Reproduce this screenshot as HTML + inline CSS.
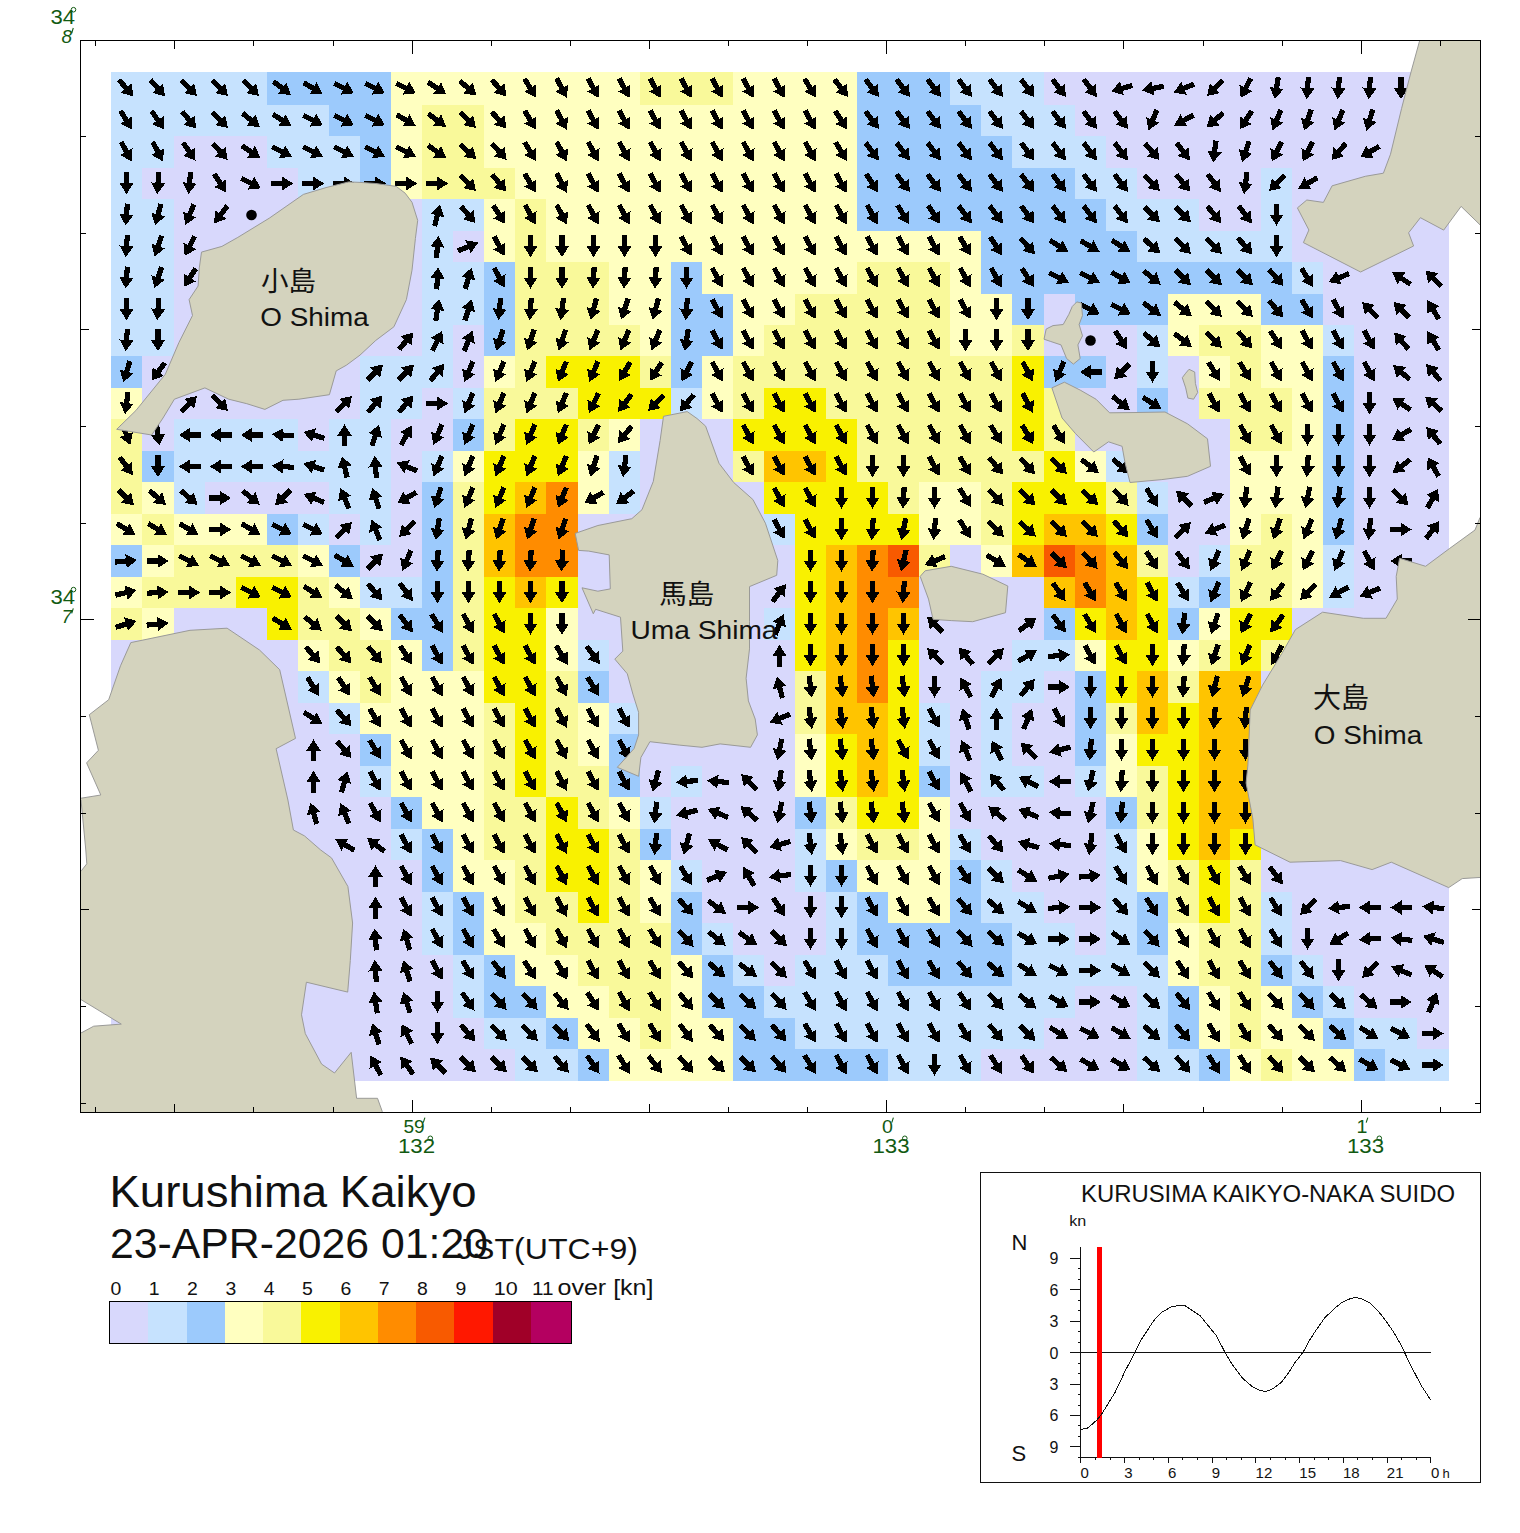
<!DOCTYPE html>
<html><head><meta charset="utf-8"><title>Kurushima Kaikyo</title>
<style>html,body{margin:0;padding:0;background:#fff}svg{display:block}text{font-family:"Liberation Sans",sans-serif}</style></head><body>
<svg width="1520" height="1533" viewBox="0 0 1520 1533">
<rect width="1520" height="1533" fill="#fff"/>
<defs><clipPath id="fc"><rect x="81" y="41" width="1400" height="1072"/></clipPath>
<path id="a" d="M-2.6,11.4V0.5H-7.1L0,-10.6L7.1,0.5H2.6V11.4Z"/></defs>
<g shape-rendering="crispEdges">
<rect x="111" y="72" width="156" height="33" fill="#c6e2fe"/>
<rect x="267" y="72" width="124" height="33" fill="#9ccafc"/>
<rect x="391" y="72" width="249" height="33" fill="#ffffc0"/>
<rect x="640" y="72" width="93" height="33" fill="#f9f99a"/>
<rect x="733" y="72" width="124" height="33" fill="#ffffc0"/>
<rect x="857" y="72" width="93" height="33" fill="#9ccafc"/>
<rect x="950" y="72" width="94" height="33" fill="#c6e2fe"/>
<rect x="1044" y="72" width="405" height="33" fill="#d8d8fc"/>
<rect x="111" y="105" width="218" height="31" fill="#c6e2fe"/>
<rect x="329" y="105" width="62" height="31" fill="#9ccafc"/>
<rect x="391" y="105" width="31" height="31" fill="#ffffc0"/>
<rect x="422" y="105" width="62" height="31" fill="#f9f99a"/>
<rect x="484" y="105" width="373" height="31" fill="#ffffc0"/>
<rect x="857" y="105" width="124" height="31" fill="#9ccafc"/>
<rect x="981" y="105" width="94" height="31" fill="#c6e2fe"/>
<rect x="1075" y="105" width="374" height="31" fill="#d8d8fc"/>
<rect x="111" y="136" width="63" height="32" fill="#c6e2fe"/>
<rect x="174" y="136" width="93" height="32" fill="#d8d8fc"/>
<rect x="267" y="136" width="93" height="32" fill="#c6e2fe"/>
<rect x="360" y="136" width="31" height="32" fill="#9ccafc"/>
<rect x="391" y="136" width="31" height="32" fill="#ffffc0"/>
<rect x="422" y="136" width="62" height="32" fill="#f9f99a"/>
<rect x="484" y="136" width="373" height="32" fill="#ffffc0"/>
<rect x="857" y="136" width="155" height="32" fill="#9ccafc"/>
<rect x="1012" y="136" width="94" height="32" fill="#c6e2fe"/>
<rect x="1106" y="136" width="343" height="32" fill="#d8d8fc"/>
<rect x="111" y="168" width="31" height="31" fill="#c6e2fe"/>
<rect x="142" y="168" width="156" height="31" fill="#d8d8fc"/>
<rect x="298" y="168" width="62" height="31" fill="#c6e2fe"/>
<rect x="360" y="168" width="31" height="31" fill="#9ccafc"/>
<rect x="391" y="168" width="31" height="31" fill="#ffffc0"/>
<rect x="422" y="168" width="93" height="31" fill="#f9f99a"/>
<rect x="515" y="168" width="342" height="31" fill="#ffffc0"/>
<rect x="857" y="168" width="218" height="31" fill="#9ccafc"/>
<rect x="1075" y="168" width="62" height="31" fill="#c6e2fe"/>
<rect x="1137" y="168" width="124" height="31" fill="#d8d8fc"/>
<rect x="1261" y="168" width="31" height="31" fill="#c6e2fe"/>
<rect x="1292" y="168" width="157" height="31" fill="#d8d8fc"/>
<rect x="111" y="199" width="63" height="32" fill="#c6e2fe"/>
<rect x="174" y="199" width="248" height="32" fill="#d8d8fc"/>
<rect x="422" y="199" width="62" height="32" fill="#c6e2fe"/>
<rect x="484" y="199" width="31" height="32" fill="#ffffc0"/>
<rect x="515" y="199" width="31" height="32" fill="#f9f99a"/>
<rect x="546" y="199" width="311" height="32" fill="#ffffc0"/>
<rect x="857" y="199" width="249" height="32" fill="#9ccafc"/>
<rect x="1106" y="199" width="93" height="32" fill="#c6e2fe"/>
<rect x="1199" y="199" width="62" height="32" fill="#d8d8fc"/>
<rect x="1261" y="199" width="31" height="32" fill="#c6e2fe"/>
<rect x="1292" y="199" width="157" height="32" fill="#d8d8fc"/>
<rect x="111" y="231" width="63" height="31" fill="#c6e2fe"/>
<rect x="174" y="231" width="248" height="31" fill="#d8d8fc"/>
<rect x="422" y="231" width="31" height="31" fill="#c6e2fe"/>
<rect x="453" y="231" width="31" height="31" fill="#d8d8fc"/>
<rect x="484" y="231" width="31" height="31" fill="#ffffc0"/>
<rect x="515" y="231" width="31" height="31" fill="#f9f99a"/>
<rect x="546" y="231" width="435" height="31" fill="#ffffc0"/>
<rect x="981" y="231" width="156" height="31" fill="#9ccafc"/>
<rect x="1137" y="231" width="155" height="31" fill="#c6e2fe"/>
<rect x="1292" y="231" width="157" height="31" fill="#d8d8fc"/>
<rect x="111" y="262" width="63" height="32" fill="#c6e2fe"/>
<rect x="174" y="262" width="248" height="32" fill="#d8d8fc"/>
<rect x="422" y="262" width="62" height="32" fill="#c6e2fe"/>
<rect x="484" y="262" width="31" height="32" fill="#9ccafc"/>
<rect x="515" y="262" width="94" height="32" fill="#f9f99a"/>
<rect x="609" y="262" width="62" height="32" fill="#ffffc0"/>
<rect x="671" y="262" width="31" height="32" fill="#9ccafc"/>
<rect x="702" y="262" width="155" height="32" fill="#ffffc0"/>
<rect x="857" y="262" width="93" height="32" fill="#f9f99a"/>
<rect x="950" y="262" width="31" height="32" fill="#ffffc0"/>
<rect x="981" y="262" width="311" height="32" fill="#9ccafc"/>
<rect x="1292" y="262" width="31" height="32" fill="#c6e2fe"/>
<rect x="1323" y="262" width="126" height="32" fill="#d8d8fc"/>
<rect x="111" y="294" width="63" height="31" fill="#c6e2fe"/>
<rect x="174" y="294" width="248" height="31" fill="#d8d8fc"/>
<rect x="422" y="294" width="62" height="31" fill="#c6e2fe"/>
<rect x="484" y="294" width="31" height="31" fill="#9ccafc"/>
<rect x="515" y="294" width="94" height="31" fill="#f9f99a"/>
<rect x="609" y="294" width="62" height="31" fill="#ffffc0"/>
<rect x="671" y="294" width="62" height="31" fill="#9ccafc"/>
<rect x="733" y="294" width="62" height="31" fill="#ffffc0"/>
<rect x="795" y="294" width="155" height="31" fill="#f9f99a"/>
<rect x="950" y="294" width="62" height="31" fill="#ffffc0"/>
<rect x="1012" y="294" width="32" height="31" fill="#9ccafc"/>
<rect x="1044" y="294" width="31" height="31" fill="#d8d8fc"/>
<rect x="1075" y="294" width="93" height="31" fill="#9ccafc"/>
<rect x="1168" y="294" width="93" height="31" fill="#ffffc0"/>
<rect x="1261" y="294" width="62" height="31" fill="#9ccafc"/>
<rect x="1323" y="294" width="126" height="31" fill="#d8d8fc"/>
<rect x="111" y="325" width="63" height="31" fill="#c6e2fe"/>
<rect x="174" y="325" width="248" height="31" fill="#d8d8fc"/>
<rect x="422" y="325" width="31" height="31" fill="#c6e2fe"/>
<rect x="453" y="325" width="31" height="31" fill="#d8d8fc"/>
<rect x="484" y="325" width="31" height="31" fill="#9ccafc"/>
<rect x="515" y="325" width="125" height="31" fill="#f9f99a"/>
<rect x="640" y="325" width="31" height="31" fill="#ffffc0"/>
<rect x="671" y="325" width="62" height="31" fill="#9ccafc"/>
<rect x="733" y="325" width="31" height="31" fill="#ffffc0"/>
<rect x="764" y="325" width="186" height="31" fill="#f9f99a"/>
<rect x="950" y="325" width="62" height="31" fill="#ffffc0"/>
<rect x="1012" y="325" width="32" height="31" fill="#f9f99a"/>
<rect x="1044" y="325" width="93" height="31" fill="#d8d8fc"/>
<rect x="1137" y="325" width="31" height="31" fill="#c6e2fe"/>
<rect x="1168" y="325" width="31" height="31" fill="#ffffc0"/>
<rect x="1199" y="325" width="62" height="31" fill="#f9f99a"/>
<rect x="1261" y="325" width="62" height="31" fill="#ffffc0"/>
<rect x="1323" y="325" width="31" height="31" fill="#c6e2fe"/>
<rect x="1354" y="325" width="95" height="31" fill="#d8d8fc"/>
<rect x="111" y="356" width="31" height="32" fill="#9ccafc"/>
<rect x="142" y="356" width="218" height="32" fill="#d8d8fc"/>
<rect x="360" y="356" width="93" height="32" fill="#c6e2fe"/>
<rect x="453" y="356" width="31" height="32" fill="#d8d8fc"/>
<rect x="484" y="356" width="31" height="32" fill="#ffffc0"/>
<rect x="515" y="356" width="31" height="32" fill="#f9f99a"/>
<rect x="546" y="356" width="94" height="32" fill="#f9f100"/>
<rect x="640" y="356" width="31" height="32" fill="#f9f99a"/>
<rect x="671" y="356" width="31" height="32" fill="#9ccafc"/>
<rect x="702" y="356" width="31" height="32" fill="#ffffc0"/>
<rect x="733" y="356" width="279" height="32" fill="#f9f99a"/>
<rect x="1012" y="356" width="32" height="32" fill="#f9f100"/>
<rect x="1044" y="356" width="62" height="32" fill="#9ccafc"/>
<rect x="1106" y="356" width="31" height="32" fill="#d8d8fc"/>
<rect x="1137" y="356" width="31" height="32" fill="#c6e2fe"/>
<rect x="1168" y="356" width="31" height="32" fill="#d8d8fc"/>
<rect x="1199" y="356" width="31" height="32" fill="#ffffc0"/>
<rect x="1230" y="356" width="31" height="32" fill="#f9f99a"/>
<rect x="1261" y="356" width="62" height="32" fill="#ffffc0"/>
<rect x="1323" y="356" width="31" height="32" fill="#9ccafc"/>
<rect x="1354" y="356" width="95" height="32" fill="#d8d8fc"/>
<rect x="111" y="388" width="31" height="31" fill="#ffffc0"/>
<rect x="142" y="388" width="218" height="31" fill="#d8d8fc"/>
<rect x="360" y="388" width="62" height="31" fill="#c6e2fe"/>
<rect x="422" y="388" width="31" height="31" fill="#d8d8fc"/>
<rect x="453" y="388" width="31" height="31" fill="#c6e2fe"/>
<rect x="484" y="388" width="94" height="31" fill="#f9f99a"/>
<rect x="578" y="388" width="93" height="31" fill="#f9f100"/>
<rect x="671" y="388" width="31" height="31" fill="#c6e2fe"/>
<rect x="702" y="388" width="31" height="31" fill="#ffffc0"/>
<rect x="733" y="388" width="31" height="31" fill="#f9f99a"/>
<rect x="764" y="388" width="62" height="31" fill="#f9f100"/>
<rect x="826" y="388" width="186" height="31" fill="#f9f99a"/>
<rect x="1012" y="388" width="32" height="31" fill="#f9f100"/>
<rect x="1044" y="388" width="31" height="31" fill="#f9f99a"/>
<rect x="1075" y="388" width="62" height="31" fill="#d8d8fc"/>
<rect x="1137" y="388" width="31" height="31" fill="#9ccafc"/>
<rect x="1168" y="388" width="31" height="31" fill="#d8d8fc"/>
<rect x="1199" y="388" width="93" height="31" fill="#f9f99a"/>
<rect x="1292" y="388" width="31" height="31" fill="#ffffc0"/>
<rect x="1323" y="388" width="31" height="31" fill="#9ccafc"/>
<rect x="1354" y="388" width="95" height="31" fill="#d8d8fc"/>
<rect x="111" y="419" width="31" height="32" fill="#f9f99a"/>
<rect x="142" y="419" width="32" height="32" fill="#d8d8fc"/>
<rect x="174" y="419" width="124" height="32" fill="#c6e2fe"/>
<rect x="298" y="419" width="31" height="32" fill="#d8d8fc"/>
<rect x="329" y="419" width="62" height="32" fill="#c6e2fe"/>
<rect x="391" y="419" width="62" height="32" fill="#d8d8fc"/>
<rect x="453" y="419" width="31" height="32" fill="#9ccafc"/>
<rect x="484" y="419" width="31" height="32" fill="#f9f99a"/>
<rect x="515" y="419" width="63" height="32" fill="#f9f100"/>
<rect x="578" y="419" width="31" height="32" fill="#f9f99a"/>
<rect x="609" y="419" width="31" height="32" fill="#ffffc0"/>
<rect x="640" y="419" width="93" height="32" fill="#d8d8fc"/>
<rect x="733" y="419" width="124" height="32" fill="#f9f100"/>
<rect x="857" y="419" width="155" height="32" fill="#f9f99a"/>
<rect x="1012" y="419" width="32" height="32" fill="#f9f100"/>
<rect x="1044" y="419" width="31" height="32" fill="#f9f99a"/>
<rect x="1075" y="419" width="155" height="32" fill="#d8d8fc"/>
<rect x="1230" y="419" width="62" height="32" fill="#f9f99a"/>
<rect x="1292" y="419" width="31" height="32" fill="#ffffc0"/>
<rect x="1323" y="419" width="31" height="32" fill="#9ccafc"/>
<rect x="1354" y="419" width="95" height="32" fill="#d8d8fc"/>
<rect x="111" y="451" width="31" height="31" fill="#f9f99a"/>
<rect x="142" y="451" width="32" height="31" fill="#9ccafc"/>
<rect x="174" y="451" width="217" height="31" fill="#c6e2fe"/>
<rect x="391" y="451" width="31" height="31" fill="#d8d8fc"/>
<rect x="422" y="451" width="31" height="31" fill="#c6e2fe"/>
<rect x="453" y="451" width="31" height="31" fill="#ffffc0"/>
<rect x="484" y="451" width="94" height="31" fill="#f9f100"/>
<rect x="578" y="451" width="31" height="31" fill="#ffffc0"/>
<rect x="609" y="451" width="31" height="31" fill="#c6e2fe"/>
<rect x="640" y="451" width="93" height="31" fill="#d8d8fc"/>
<rect x="733" y="451" width="31" height="31" fill="#f9f99a"/>
<rect x="764" y="451" width="62" height="31" fill="#ffc400"/>
<rect x="826" y="451" width="31" height="31" fill="#f9f100"/>
<rect x="857" y="451" width="187" height="31" fill="#f9f99a"/>
<rect x="1044" y="451" width="31" height="31" fill="#f9f100"/>
<rect x="1075" y="451" width="31" height="31" fill="#ffffc0"/>
<rect x="1106" y="451" width="31" height="31" fill="#c6e2fe"/>
<rect x="1137" y="451" width="93" height="31" fill="#d8d8fc"/>
<rect x="1230" y="451" width="93" height="31" fill="#ffffc0"/>
<rect x="1323" y="451" width="31" height="31" fill="#9ccafc"/>
<rect x="1354" y="451" width="95" height="31" fill="#d8d8fc"/>
<rect x="111" y="482" width="31" height="32" fill="#f9f99a"/>
<rect x="142" y="482" width="32" height="32" fill="#ffffc0"/>
<rect x="174" y="482" width="31" height="32" fill="#c6e2fe"/>
<rect x="205" y="482" width="124" height="32" fill="#d8d8fc"/>
<rect x="329" y="482" width="62" height="32" fill="#c6e2fe"/>
<rect x="391" y="482" width="31" height="32" fill="#d8d8fc"/>
<rect x="422" y="482" width="31" height="32" fill="#9ccafc"/>
<rect x="453" y="482" width="31" height="32" fill="#f9f99a"/>
<rect x="484" y="482" width="31" height="32" fill="#f9f100"/>
<rect x="515" y="482" width="31" height="32" fill="#ffc400"/>
<rect x="546" y="482" width="32" height="32" fill="#ff8c00"/>
<rect x="578" y="482" width="31" height="32" fill="#ffffc0"/>
<rect x="609" y="482" width="31" height="32" fill="#c6e2fe"/>
<rect x="640" y="482" width="124" height="32" fill="#d8d8fc"/>
<rect x="764" y="482" width="124" height="32" fill="#f9f100"/>
<rect x="888" y="482" width="31" height="32" fill="#f9f99a"/>
<rect x="919" y="482" width="62" height="32" fill="#ffffc0"/>
<rect x="981" y="482" width="31" height="32" fill="#f9f99a"/>
<rect x="1012" y="482" width="94" height="32" fill="#f9f100"/>
<rect x="1106" y="482" width="31" height="32" fill="#f9f99a"/>
<rect x="1137" y="482" width="31" height="32" fill="#c6e2fe"/>
<rect x="1168" y="482" width="62" height="32" fill="#d8d8fc"/>
<rect x="1230" y="482" width="93" height="32" fill="#ffffc0"/>
<rect x="1323" y="482" width="31" height="32" fill="#9ccafc"/>
<rect x="1354" y="482" width="95" height="32" fill="#d8d8fc"/>
<rect x="111" y="514" width="31" height="31" fill="#ffffc0"/>
<rect x="142" y="514" width="32" height="31" fill="#f9f99a"/>
<rect x="174" y="514" width="93" height="31" fill="#ffffc0"/>
<rect x="267" y="514" width="31" height="31" fill="#9ccafc"/>
<rect x="298" y="514" width="31" height="31" fill="#c6e2fe"/>
<rect x="329" y="514" width="31" height="31" fill="#d8d8fc"/>
<rect x="360" y="514" width="31" height="31" fill="#c6e2fe"/>
<rect x="391" y="514" width="31" height="31" fill="#d8d8fc"/>
<rect x="422" y="514" width="31" height="31" fill="#9ccafc"/>
<rect x="453" y="514" width="31" height="31" fill="#f9f99a"/>
<rect x="484" y="514" width="31" height="31" fill="#ffc400"/>
<rect x="515" y="514" width="63" height="31" fill="#ff8c00"/>
<rect x="578" y="514" width="186" height="31" fill="#d8d8fc"/>
<rect x="764" y="514" width="31" height="31" fill="#c6e2fe"/>
<rect x="795" y="514" width="124" height="31" fill="#f9f100"/>
<rect x="919" y="514" width="62" height="31" fill="#ffffc0"/>
<rect x="981" y="514" width="31" height="31" fill="#f9f99a"/>
<rect x="1012" y="514" width="32" height="31" fill="#f9f100"/>
<rect x="1044" y="514" width="62" height="31" fill="#ffc400"/>
<rect x="1106" y="514" width="31" height="31" fill="#f9f100"/>
<rect x="1137" y="514" width="31" height="31" fill="#9ccafc"/>
<rect x="1168" y="514" width="62" height="31" fill="#d8d8fc"/>
<rect x="1230" y="514" width="31" height="31" fill="#ffffc0"/>
<rect x="1261" y="514" width="31" height="31" fill="#f9f99a"/>
<rect x="1292" y="514" width="31" height="31" fill="#ffffc0"/>
<rect x="1323" y="514" width="31" height="31" fill="#9ccafc"/>
<rect x="1354" y="514" width="95" height="31" fill="#d8d8fc"/>
<rect x="111" y="545" width="31" height="32" fill="#9ccafc"/>
<rect x="142" y="545" width="32" height="32" fill="#ffffc0"/>
<rect x="174" y="545" width="124" height="32" fill="#f9f99a"/>
<rect x="298" y="545" width="31" height="32" fill="#ffffc0"/>
<rect x="329" y="545" width="31" height="32" fill="#9ccafc"/>
<rect x="360" y="545" width="62" height="32" fill="#d8d8fc"/>
<rect x="422" y="545" width="31" height="32" fill="#9ccafc"/>
<rect x="453" y="545" width="31" height="32" fill="#f9f99a"/>
<rect x="484" y="545" width="31" height="32" fill="#ffc400"/>
<rect x="515" y="545" width="63" height="32" fill="#ff8c00"/>
<rect x="578" y="545" width="217" height="32" fill="#d8d8fc"/>
<rect x="795" y="545" width="31" height="32" fill="#f9f100"/>
<rect x="826" y="545" width="31" height="32" fill="#ffc400"/>
<rect x="857" y="545" width="31" height="32" fill="#ff8c00"/>
<rect x="888" y="545" width="31" height="32" fill="#f85a00"/>
<rect x="919" y="545" width="31" height="32" fill="#f9f99a"/>
<rect x="950" y="545" width="31" height="32" fill="#d8d8fc"/>
<rect x="981" y="545" width="31" height="32" fill="#ffffc0"/>
<rect x="1012" y="545" width="32" height="32" fill="#ffc400"/>
<rect x="1044" y="545" width="31" height="32" fill="#f85a00"/>
<rect x="1075" y="545" width="31" height="32" fill="#ff8c00"/>
<rect x="1106" y="545" width="31" height="32" fill="#ffc400"/>
<rect x="1137" y="545" width="31" height="32" fill="#f9f99a"/>
<rect x="1168" y="545" width="31" height="32" fill="#d8d8fc"/>
<rect x="1199" y="545" width="31" height="32" fill="#c6e2fe"/>
<rect x="1230" y="545" width="62" height="32" fill="#f9f99a"/>
<rect x="1292" y="545" width="31" height="32" fill="#ffffc0"/>
<rect x="1323" y="545" width="31" height="32" fill="#c6e2fe"/>
<rect x="1354" y="545" width="95" height="32" fill="#d8d8fc"/>
<rect x="111" y="577" width="31" height="31" fill="#ffffc0"/>
<rect x="142" y="577" width="94" height="31" fill="#f9f99a"/>
<rect x="236" y="577" width="62" height="31" fill="#f9f100"/>
<rect x="298" y="577" width="31" height="31" fill="#f9f99a"/>
<rect x="329" y="577" width="31" height="31" fill="#ffffc0"/>
<rect x="360" y="577" width="62" height="31" fill="#c6e2fe"/>
<rect x="422" y="577" width="31" height="31" fill="#9ccafc"/>
<rect x="453" y="577" width="31" height="31" fill="#f9f99a"/>
<rect x="484" y="577" width="31" height="31" fill="#f9f100"/>
<rect x="515" y="577" width="31" height="31" fill="#ffc400"/>
<rect x="546" y="577" width="32" height="31" fill="#f9f100"/>
<rect x="578" y="577" width="217" height="31" fill="#d8d8fc"/>
<rect x="795" y="577" width="31" height="31" fill="#f9f100"/>
<rect x="826" y="577" width="31" height="31" fill="#ffc400"/>
<rect x="857" y="577" width="62" height="31" fill="#ff8c00"/>
<rect x="919" y="577" width="125" height="31" fill="#d8d8fc"/>
<rect x="1044" y="577" width="31" height="31" fill="#ffc400"/>
<rect x="1075" y="577" width="31" height="31" fill="#ff8c00"/>
<rect x="1106" y="577" width="31" height="31" fill="#ffc400"/>
<rect x="1137" y="577" width="31" height="31" fill="#f9f100"/>
<rect x="1168" y="577" width="31" height="31" fill="#c6e2fe"/>
<rect x="1199" y="577" width="31" height="31" fill="#9ccafc"/>
<rect x="1230" y="577" width="62" height="31" fill="#f9f99a"/>
<rect x="1292" y="577" width="31" height="31" fill="#ffffc0"/>
<rect x="1323" y="577" width="31" height="31" fill="#c6e2fe"/>
<rect x="1354" y="577" width="95" height="31" fill="#d8d8fc"/>
<rect x="111" y="608" width="31" height="32" fill="#f9f99a"/>
<rect x="142" y="608" width="32" height="32" fill="#ffffc0"/>
<rect x="174" y="608" width="93" height="32" fill="#d8d8fc"/>
<rect x="267" y="608" width="31" height="32" fill="#f9f100"/>
<rect x="298" y="608" width="62" height="32" fill="#f9f99a"/>
<rect x="360" y="608" width="31" height="32" fill="#ffffc0"/>
<rect x="391" y="608" width="62" height="32" fill="#9ccafc"/>
<rect x="453" y="608" width="31" height="32" fill="#f9f99a"/>
<rect x="484" y="608" width="62" height="32" fill="#f9f100"/>
<rect x="546" y="608" width="32" height="32" fill="#ffffc0"/>
<rect x="578" y="608" width="186" height="32" fill="#d8d8fc"/>
<rect x="764" y="608" width="31" height="32" fill="#c6e2fe"/>
<rect x="795" y="608" width="31" height="32" fill="#f9f100"/>
<rect x="826" y="608" width="31" height="32" fill="#ffc400"/>
<rect x="857" y="608" width="31" height="32" fill="#ff8c00"/>
<rect x="888" y="608" width="31" height="32" fill="#ffc400"/>
<rect x="919" y="608" width="125" height="32" fill="#d8d8fc"/>
<rect x="1044" y="608" width="31" height="32" fill="#9ccafc"/>
<rect x="1075" y="608" width="31" height="32" fill="#f9f100"/>
<rect x="1106" y="608" width="31" height="32" fill="#ffc400"/>
<rect x="1137" y="608" width="31" height="32" fill="#f9f100"/>
<rect x="1168" y="608" width="31" height="32" fill="#9ccafc"/>
<rect x="1199" y="608" width="31" height="32" fill="#ffffc0"/>
<rect x="1230" y="608" width="62" height="32" fill="#f9f100"/>
<rect x="1292" y="608" width="157" height="32" fill="#d8d8fc"/>
<rect x="111" y="640" width="187" height="31" fill="#d8d8fc"/>
<rect x="298" y="640" width="31" height="31" fill="#ffffc0"/>
<rect x="329" y="640" width="62" height="31" fill="#f9f99a"/>
<rect x="391" y="640" width="31" height="31" fill="#ffffc0"/>
<rect x="422" y="640" width="31" height="31" fill="#9ccafc"/>
<rect x="453" y="640" width="31" height="31" fill="#f9f99a"/>
<rect x="484" y="640" width="62" height="31" fill="#f9f100"/>
<rect x="546" y="640" width="32" height="31" fill="#ffffc0"/>
<rect x="578" y="640" width="31" height="31" fill="#c6e2fe"/>
<rect x="609" y="640" width="186" height="31" fill="#d8d8fc"/>
<rect x="795" y="640" width="31" height="31" fill="#f9f100"/>
<rect x="826" y="640" width="31" height="31" fill="#ffc400"/>
<rect x="857" y="640" width="31" height="31" fill="#ff8c00"/>
<rect x="888" y="640" width="31" height="31" fill="#f9f100"/>
<rect x="919" y="640" width="93" height="31" fill="#d8d8fc"/>
<rect x="1012" y="640" width="63" height="31" fill="#c6e2fe"/>
<rect x="1075" y="640" width="31" height="31" fill="#ffffc0"/>
<rect x="1106" y="640" width="62" height="31" fill="#f9f100"/>
<rect x="1168" y="640" width="31" height="31" fill="#ffffc0"/>
<rect x="1199" y="640" width="31" height="31" fill="#f9f99a"/>
<rect x="1230" y="640" width="31" height="31" fill="#f9f100"/>
<rect x="1261" y="640" width="31" height="31" fill="#f9f99a"/>
<rect x="1292" y="640" width="157" height="31" fill="#d8d8fc"/>
<rect x="111" y="671" width="187" height="32" fill="#d8d8fc"/>
<rect x="298" y="671" width="31" height="32" fill="#c6e2fe"/>
<rect x="329" y="671" width="31" height="32" fill="#ffffc0"/>
<rect x="360" y="671" width="31" height="32" fill="#f9f99a"/>
<rect x="391" y="671" width="93" height="32" fill="#ffffc0"/>
<rect x="484" y="671" width="62" height="32" fill="#f9f100"/>
<rect x="546" y="671" width="32" height="32" fill="#f9f99a"/>
<rect x="578" y="671" width="31" height="32" fill="#9ccafc"/>
<rect x="609" y="671" width="186" height="32" fill="#d8d8fc"/>
<rect x="795" y="671" width="31" height="32" fill="#f9f99a"/>
<rect x="826" y="671" width="31" height="32" fill="#ffc400"/>
<rect x="857" y="671" width="31" height="32" fill="#ff8c00"/>
<rect x="888" y="671" width="31" height="32" fill="#f9f100"/>
<rect x="919" y="671" width="62" height="32" fill="#d8d8fc"/>
<rect x="981" y="671" width="63" height="32" fill="#c6e2fe"/>
<rect x="1044" y="671" width="31" height="32" fill="#d8d8fc"/>
<rect x="1075" y="671" width="31" height="32" fill="#9ccafc"/>
<rect x="1106" y="671" width="31" height="32" fill="#f9f100"/>
<rect x="1137" y="671" width="31" height="32" fill="#ffc400"/>
<rect x="1168" y="671" width="31" height="32" fill="#f9f99a"/>
<rect x="1199" y="671" width="62" height="32" fill="#ffc400"/>
<rect x="1261" y="671" width="188" height="32" fill="#d8d8fc"/>
<rect x="111" y="703" width="218" height="31" fill="#d8d8fc"/>
<rect x="329" y="703" width="31" height="31" fill="#c6e2fe"/>
<rect x="360" y="703" width="124" height="31" fill="#ffffc0"/>
<rect x="484" y="703" width="31" height="31" fill="#f9f99a"/>
<rect x="515" y="703" width="31" height="31" fill="#f9f100"/>
<rect x="546" y="703" width="32" height="31" fill="#f9f99a"/>
<rect x="578" y="703" width="31" height="31" fill="#ffffc0"/>
<rect x="609" y="703" width="31" height="31" fill="#c6e2fe"/>
<rect x="640" y="703" width="155" height="31" fill="#d8d8fc"/>
<rect x="795" y="703" width="31" height="31" fill="#f9f99a"/>
<rect x="826" y="703" width="62" height="31" fill="#ffc400"/>
<rect x="888" y="703" width="31" height="31" fill="#f9f100"/>
<rect x="919" y="703" width="31" height="31" fill="#c6e2fe"/>
<rect x="950" y="703" width="31" height="31" fill="#d8d8fc"/>
<rect x="981" y="703" width="31" height="31" fill="#c6e2fe"/>
<rect x="1012" y="703" width="63" height="31" fill="#d8d8fc"/>
<rect x="1075" y="703" width="31" height="31" fill="#9ccafc"/>
<rect x="1106" y="703" width="31" height="31" fill="#f9f99a"/>
<rect x="1137" y="703" width="31" height="31" fill="#ffc400"/>
<rect x="1168" y="703" width="31" height="31" fill="#f9f100"/>
<rect x="1199" y="703" width="62" height="31" fill="#ffc400"/>
<rect x="1261" y="703" width="188" height="31" fill="#d8d8fc"/>
<rect x="111" y="734" width="249" height="32" fill="#d8d8fc"/>
<rect x="360" y="734" width="31" height="32" fill="#9ccafc"/>
<rect x="391" y="734" width="93" height="32" fill="#ffffc0"/>
<rect x="484" y="734" width="31" height="32" fill="#f9f99a"/>
<rect x="515" y="734" width="31" height="32" fill="#f9f100"/>
<rect x="546" y="734" width="32" height="32" fill="#f9f99a"/>
<rect x="578" y="734" width="31" height="32" fill="#ffffc0"/>
<rect x="609" y="734" width="31" height="32" fill="#9ccafc"/>
<rect x="640" y="734" width="155" height="32" fill="#d8d8fc"/>
<rect x="795" y="734" width="31" height="32" fill="#ffffc0"/>
<rect x="826" y="734" width="31" height="32" fill="#f9f100"/>
<rect x="857" y="734" width="31" height="32" fill="#ffc400"/>
<rect x="888" y="734" width="31" height="32" fill="#f9f100"/>
<rect x="919" y="734" width="31" height="32" fill="#c6e2fe"/>
<rect x="950" y="734" width="31" height="32" fill="#d8d8fc"/>
<rect x="981" y="734" width="31" height="32" fill="#c6e2fe"/>
<rect x="1012" y="734" width="63" height="32" fill="#d8d8fc"/>
<rect x="1075" y="734" width="31" height="32" fill="#9ccafc"/>
<rect x="1106" y="734" width="31" height="32" fill="#ffffc0"/>
<rect x="1137" y="734" width="62" height="32" fill="#f9f100"/>
<rect x="1199" y="734" width="62" height="32" fill="#ffc400"/>
<rect x="1261" y="734" width="188" height="32" fill="#d8d8fc"/>
<rect x="111" y="766" width="249" height="31" fill="#d8d8fc"/>
<rect x="360" y="766" width="31" height="31" fill="#c6e2fe"/>
<rect x="391" y="766" width="93" height="31" fill="#ffffc0"/>
<rect x="484" y="766" width="31" height="31" fill="#f9f99a"/>
<rect x="515" y="766" width="31" height="31" fill="#f9f100"/>
<rect x="546" y="766" width="63" height="31" fill="#f9f99a"/>
<rect x="609" y="766" width="31" height="31" fill="#9ccafc"/>
<rect x="640" y="766" width="31" height="31" fill="#d8d8fc"/>
<rect x="671" y="766" width="31" height="31" fill="#c6e2fe"/>
<rect x="702" y="766" width="93" height="31" fill="#d8d8fc"/>
<rect x="795" y="766" width="31" height="31" fill="#ffffc0"/>
<rect x="826" y="766" width="31" height="31" fill="#f9f100"/>
<rect x="857" y="766" width="31" height="31" fill="#ffc400"/>
<rect x="888" y="766" width="31" height="31" fill="#f9f100"/>
<rect x="919" y="766" width="31" height="31" fill="#9ccafc"/>
<rect x="950" y="766" width="31" height="31" fill="#d8d8fc"/>
<rect x="981" y="766" width="63" height="31" fill="#c6e2fe"/>
<rect x="1044" y="766" width="31" height="31" fill="#d8d8fc"/>
<rect x="1075" y="766" width="31" height="31" fill="#c6e2fe"/>
<rect x="1106" y="766" width="31" height="31" fill="#ffffc0"/>
<rect x="1137" y="766" width="31" height="31" fill="#f9f99a"/>
<rect x="1168" y="766" width="31" height="31" fill="#f9f100"/>
<rect x="1199" y="766" width="62" height="31" fill="#ffc400"/>
<rect x="1261" y="766" width="188" height="31" fill="#d8d8fc"/>
<rect x="111" y="797" width="280" height="32" fill="#d8d8fc"/>
<rect x="391" y="797" width="31" height="32" fill="#9ccafc"/>
<rect x="422" y="797" width="62" height="32" fill="#ffffc0"/>
<rect x="484" y="797" width="62" height="32" fill="#f9f99a"/>
<rect x="546" y="797" width="32" height="32" fill="#f9f100"/>
<rect x="578" y="797" width="31" height="32" fill="#f9f99a"/>
<rect x="609" y="797" width="31" height="32" fill="#ffffc0"/>
<rect x="640" y="797" width="31" height="32" fill="#c6e2fe"/>
<rect x="671" y="797" width="124" height="32" fill="#d8d8fc"/>
<rect x="795" y="797" width="31" height="32" fill="#9ccafc"/>
<rect x="826" y="797" width="31" height="32" fill="#f9f99a"/>
<rect x="857" y="797" width="62" height="32" fill="#f9f100"/>
<rect x="919" y="797" width="31" height="32" fill="#ffffc0"/>
<rect x="950" y="797" width="156" height="32" fill="#d8d8fc"/>
<rect x="1106" y="797" width="31" height="32" fill="#9ccafc"/>
<rect x="1137" y="797" width="31" height="32" fill="#f9f99a"/>
<rect x="1168" y="797" width="31" height="32" fill="#f9f100"/>
<rect x="1199" y="797" width="62" height="32" fill="#ffc400"/>
<rect x="1261" y="797" width="188" height="32" fill="#d8d8fc"/>
<rect x="111" y="829" width="280" height="31" fill="#d8d8fc"/>
<rect x="391" y="829" width="31" height="31" fill="#c6e2fe"/>
<rect x="422" y="829" width="31" height="31" fill="#9ccafc"/>
<rect x="453" y="829" width="31" height="31" fill="#ffffc0"/>
<rect x="484" y="829" width="62" height="31" fill="#f9f99a"/>
<rect x="546" y="829" width="63" height="31" fill="#f9f100"/>
<rect x="609" y="829" width="31" height="31" fill="#f9f99a"/>
<rect x="640" y="829" width="31" height="31" fill="#9ccafc"/>
<rect x="671" y="829" width="124" height="31" fill="#d8d8fc"/>
<rect x="795" y="829" width="31" height="31" fill="#c6e2fe"/>
<rect x="826" y="829" width="31" height="31" fill="#ffffc0"/>
<rect x="857" y="829" width="62" height="31" fill="#f9f99a"/>
<rect x="919" y="829" width="31" height="31" fill="#ffffc0"/>
<rect x="950" y="829" width="31" height="31" fill="#c6e2fe"/>
<rect x="981" y="829" width="125" height="31" fill="#d8d8fc"/>
<rect x="1106" y="829" width="31" height="31" fill="#c6e2fe"/>
<rect x="1137" y="829" width="31" height="31" fill="#ffffc0"/>
<rect x="1168" y="829" width="31" height="31" fill="#f9f100"/>
<rect x="1199" y="829" width="31" height="31" fill="#ffc400"/>
<rect x="1230" y="829" width="31" height="31" fill="#f9f100"/>
<rect x="1261" y="829" width="188" height="31" fill="#d8d8fc"/>
<rect x="111" y="860" width="311" height="32" fill="#d8d8fc"/>
<rect x="422" y="860" width="31" height="32" fill="#9ccafc"/>
<rect x="453" y="860" width="62" height="32" fill="#ffffc0"/>
<rect x="515" y="860" width="31" height="32" fill="#f9f99a"/>
<rect x="546" y="860" width="63" height="32" fill="#f9f100"/>
<rect x="609" y="860" width="31" height="32" fill="#f9f99a"/>
<rect x="640" y="860" width="31" height="32" fill="#ffffc0"/>
<rect x="671" y="860" width="31" height="32" fill="#c6e2fe"/>
<rect x="702" y="860" width="93" height="32" fill="#d8d8fc"/>
<rect x="795" y="860" width="31" height="32" fill="#c6e2fe"/>
<rect x="826" y="860" width="31" height="32" fill="#9ccafc"/>
<rect x="857" y="860" width="93" height="32" fill="#ffffc0"/>
<rect x="950" y="860" width="31" height="32" fill="#9ccafc"/>
<rect x="981" y="860" width="31" height="32" fill="#c6e2fe"/>
<rect x="1012" y="860" width="94" height="32" fill="#d8d8fc"/>
<rect x="1106" y="860" width="31" height="32" fill="#c6e2fe"/>
<rect x="1137" y="860" width="31" height="32" fill="#ffffc0"/>
<rect x="1168" y="860" width="31" height="32" fill="#f9f99a"/>
<rect x="1199" y="860" width="31" height="32" fill="#f9f100"/>
<rect x="1230" y="860" width="31" height="32" fill="#f9f99a"/>
<rect x="1261" y="860" width="188" height="32" fill="#d8d8fc"/>
<rect x="111" y="892" width="311" height="31" fill="#d8d8fc"/>
<rect x="422" y="892" width="31" height="31" fill="#c6e2fe"/>
<rect x="453" y="892" width="31" height="31" fill="#9ccafc"/>
<rect x="484" y="892" width="31" height="31" fill="#ffffc0"/>
<rect x="515" y="892" width="63" height="31" fill="#f9f99a"/>
<rect x="578" y="892" width="31" height="31" fill="#f9f100"/>
<rect x="609" y="892" width="31" height="31" fill="#f9f99a"/>
<rect x="640" y="892" width="31" height="31" fill="#ffffc0"/>
<rect x="671" y="892" width="31" height="31" fill="#9ccafc"/>
<rect x="702" y="892" width="124" height="31" fill="#d8d8fc"/>
<rect x="826" y="892" width="31" height="31" fill="#c6e2fe"/>
<rect x="857" y="892" width="31" height="31" fill="#9ccafc"/>
<rect x="888" y="892" width="62" height="31" fill="#ffffc0"/>
<rect x="950" y="892" width="31" height="31" fill="#9ccafc"/>
<rect x="981" y="892" width="63" height="31" fill="#c6e2fe"/>
<rect x="1044" y="892" width="62" height="31" fill="#d8d8fc"/>
<rect x="1106" y="892" width="31" height="31" fill="#c6e2fe"/>
<rect x="1137" y="892" width="31" height="31" fill="#9ccafc"/>
<rect x="1168" y="892" width="31" height="31" fill="#f9f99a"/>
<rect x="1199" y="892" width="31" height="31" fill="#f9f100"/>
<rect x="1230" y="892" width="31" height="31" fill="#f9f99a"/>
<rect x="1261" y="892" width="31" height="31" fill="#c6e2fe"/>
<rect x="1292" y="892" width="157" height="31" fill="#d8d8fc"/>
<rect x="111" y="923" width="311" height="32" fill="#d8d8fc"/>
<rect x="422" y="923" width="31" height="32" fill="#c6e2fe"/>
<rect x="453" y="923" width="31" height="32" fill="#9ccafc"/>
<rect x="484" y="923" width="62" height="32" fill="#ffffc0"/>
<rect x="546" y="923" width="125" height="32" fill="#f9f99a"/>
<rect x="671" y="923" width="31" height="32" fill="#9ccafc"/>
<rect x="702" y="923" width="31" height="32" fill="#c6e2fe"/>
<rect x="733" y="923" width="93" height="32" fill="#d8d8fc"/>
<rect x="826" y="923" width="31" height="32" fill="#c6e2fe"/>
<rect x="857" y="923" width="155" height="32" fill="#9ccafc"/>
<rect x="1012" y="923" width="63" height="32" fill="#c6e2fe"/>
<rect x="1075" y="923" width="31" height="32" fill="#d8d8fc"/>
<rect x="1106" y="923" width="31" height="32" fill="#c6e2fe"/>
<rect x="1137" y="923" width="31" height="32" fill="#9ccafc"/>
<rect x="1168" y="923" width="31" height="32" fill="#ffffc0"/>
<rect x="1199" y="923" width="62" height="32" fill="#f9f99a"/>
<rect x="1261" y="923" width="31" height="32" fill="#c6e2fe"/>
<rect x="1292" y="923" width="157" height="32" fill="#d8d8fc"/>
<rect x="111" y="955" width="342" height="31" fill="#d8d8fc"/>
<rect x="453" y="955" width="31" height="31" fill="#c6e2fe"/>
<rect x="484" y="955" width="31" height="31" fill="#9ccafc"/>
<rect x="515" y="955" width="63" height="31" fill="#ffffc0"/>
<rect x="578" y="955" width="93" height="31" fill="#f9f99a"/>
<rect x="671" y="955" width="31" height="31" fill="#ffffc0"/>
<rect x="702" y="955" width="31" height="31" fill="#9ccafc"/>
<rect x="733" y="955" width="31" height="31" fill="#c6e2fe"/>
<rect x="764" y="955" width="31" height="31" fill="#d8d8fc"/>
<rect x="795" y="955" width="93" height="31" fill="#c6e2fe"/>
<rect x="888" y="955" width="124" height="31" fill="#9ccafc"/>
<rect x="1012" y="955" width="156" height="31" fill="#c6e2fe"/>
<rect x="1168" y="955" width="31" height="31" fill="#ffffc0"/>
<rect x="1199" y="955" width="62" height="31" fill="#f9f99a"/>
<rect x="1261" y="955" width="31" height="31" fill="#9ccafc"/>
<rect x="1292" y="955" width="31" height="31" fill="#c6e2fe"/>
<rect x="1323" y="955" width="126" height="31" fill="#d8d8fc"/>
<rect x="111" y="986" width="342" height="32" fill="#d8d8fc"/>
<rect x="453" y="986" width="31" height="32" fill="#c6e2fe"/>
<rect x="484" y="986" width="62" height="32" fill="#9ccafc"/>
<rect x="546" y="986" width="63" height="32" fill="#ffffc0"/>
<rect x="609" y="986" width="62" height="32" fill="#f9f99a"/>
<rect x="671" y="986" width="31" height="32" fill="#ffffc0"/>
<rect x="702" y="986" width="62" height="32" fill="#9ccafc"/>
<rect x="764" y="986" width="311" height="32" fill="#c6e2fe"/>
<rect x="1075" y="986" width="62" height="32" fill="#d8d8fc"/>
<rect x="1137" y="986" width="31" height="32" fill="#c6e2fe"/>
<rect x="1168" y="986" width="31" height="32" fill="#9ccafc"/>
<rect x="1199" y="986" width="31" height="32" fill="#ffffc0"/>
<rect x="1230" y="986" width="31" height="32" fill="#f9f99a"/>
<rect x="1261" y="986" width="31" height="32" fill="#ffffc0"/>
<rect x="1292" y="986" width="31" height="32" fill="#9ccafc"/>
<rect x="1323" y="986" width="31" height="32" fill="#c6e2fe"/>
<rect x="1354" y="986" width="95" height="32" fill="#d8d8fc"/>
<rect x="111" y="1018" width="373" height="31" fill="#d8d8fc"/>
<rect x="484" y="1018" width="62" height="31" fill="#c6e2fe"/>
<rect x="546" y="1018" width="32" height="31" fill="#9ccafc"/>
<rect x="578" y="1018" width="62" height="31" fill="#ffffc0"/>
<rect x="640" y="1018" width="31" height="31" fill="#f9f99a"/>
<rect x="671" y="1018" width="62" height="31" fill="#ffffc0"/>
<rect x="733" y="1018" width="62" height="31" fill="#9ccafc"/>
<rect x="795" y="1018" width="249" height="31" fill="#c6e2fe"/>
<rect x="1044" y="1018" width="93" height="31" fill="#d8d8fc"/>
<rect x="1137" y="1018" width="31" height="31" fill="#c6e2fe"/>
<rect x="1168" y="1018" width="31" height="31" fill="#9ccafc"/>
<rect x="1199" y="1018" width="31" height="31" fill="#ffffc0"/>
<rect x="1230" y="1018" width="31" height="31" fill="#f9f99a"/>
<rect x="1261" y="1018" width="62" height="31" fill="#ffffc0"/>
<rect x="1323" y="1018" width="31" height="31" fill="#9ccafc"/>
<rect x="1354" y="1018" width="63" height="31" fill="#c6e2fe"/>
<rect x="1417" y="1018" width="32" height="31" fill="#d8d8fc"/>
<rect x="111" y="1049" width="404" height="32" fill="#d8d8fc"/>
<rect x="515" y="1049" width="63" height="32" fill="#c6e2fe"/>
<rect x="578" y="1049" width="31" height="32" fill="#9ccafc"/>
<rect x="609" y="1049" width="124" height="32" fill="#ffffc0"/>
<rect x="733" y="1049" width="155" height="32" fill="#9ccafc"/>
<rect x="888" y="1049" width="93" height="32" fill="#c6e2fe"/>
<rect x="981" y="1049" width="156" height="32" fill="#d8d8fc"/>
<rect x="1137" y="1049" width="62" height="32" fill="#c6e2fe"/>
<rect x="1199" y="1049" width="31" height="32" fill="#9ccafc"/>
<rect x="1230" y="1049" width="31" height="32" fill="#ffffc0"/>
<rect x="1261" y="1049" width="31" height="32" fill="#f9f99a"/>
<rect x="1292" y="1049" width="62" height="32" fill="#ffffc0"/>
<rect x="1354" y="1049" width="31" height="32" fill="#9ccafc"/>
<rect x="1385" y="1049" width="64" height="32" fill="#c6e2fe"/>
</g>
<g fill="#000" shape-rendering="crispEdges">
<use href="#a" transform="translate(126.5 88.5) rotate(139.2)"/>
<use href="#a" transform="translate(158.0 88.5) rotate(138.4)"/>
<use href="#a" transform="translate(189.5 88.5) rotate(135.0)"/>
<use href="#a" transform="translate(220.5 88.5) rotate(135.0)"/>
<use href="#a" transform="translate(251.5 88.5) rotate(135.0)"/>
<use href="#a" transform="translate(282.5 88.5) rotate(127.8)"/>
<use href="#a" transform="translate(313.5 88.5) rotate(120.6)"/>
<use href="#a" transform="translate(344.5 88.5) rotate(117.0)"/>
<use href="#a" transform="translate(375.5 88.5) rotate(117.0)"/>
<use href="#a" transform="translate(406.5 88.5) rotate(117.0)"/>
<use href="#a" transform="translate(437.5 88.5) rotate(124.2)"/>
<use href="#a" transform="translate(468.5 88.5) rotate(131.4)"/>
<use href="#a" transform="translate(499.5 88.5) rotate(138.4)"/>
<use href="#a" transform="translate(530.5 88.5) rotate(148.6)"/>
<use href="#a" transform="translate(562.0 88.5) rotate(152.0)"/>
<use href="#a" transform="translate(593.5 88.5) rotate(152.0)"/>
<use href="#a" transform="translate(624.5 88.5) rotate(152.0)"/>
<use href="#a" transform="translate(655.5 88.5) rotate(152.0)"/>
<use href="#a" transform="translate(686.5 88.5) rotate(152.0)"/>
<use href="#a" transform="translate(717.5 88.5) rotate(152.0)"/>
<use href="#a" transform="translate(748.5 88.5) rotate(152.0)"/>
<use href="#a" transform="translate(779.5 88.5) rotate(152.0)"/>
<use href="#a" transform="translate(810.5 88.5) rotate(148.6)"/>
<use href="#a" transform="translate(841.5 88.5) rotate(141.8)"/>
<use href="#a" transform="translate(872.5 88.5) rotate(143.0)"/>
<use href="#a" transform="translate(903.5 88.5) rotate(143.0)"/>
<use href="#a" transform="translate(934.5 88.5) rotate(143.0)"/>
<use href="#a" transform="translate(965.5 88.5) rotate(143.0)"/>
<use href="#a" transform="translate(996.5 88.5) rotate(143.0)"/>
<use href="#a" transform="translate(1028.0 88.5) rotate(143.0)"/>
<use href="#a" transform="translate(1059.5 88.5) rotate(143.0)"/>
<use href="#a" transform="translate(1090.5 88.5) rotate(143.5)"/>
<use href="#a" transform="translate(1121.5 88.5) rotate(255.0)"/>
<use href="#a" transform="translate(1152.5 88.5) rotate(258.8)"/>
<use href="#a" transform="translate(1183.5 88.5) rotate(247.5)"/>
<use href="#a" transform="translate(1214.5 88.5) rotate(225.0)"/>
<use href="#a" transform="translate(1245.5 88.5) rotate(207.1)"/>
<use href="#a" transform="translate(1276.5 88.5) rotate(189.0)"/>
<use href="#a" transform="translate(1307.5 88.5) rotate(184.4)"/>
<use href="#a" transform="translate(1338.5 88.5) rotate(184.4)"/>
<use href="#a" transform="translate(1369.5 88.5) rotate(184.4)"/>
<use href="#a" transform="translate(1401.0 88.5) rotate(180.0)"/>
<use href="#a" transform="translate(126.5 120.5) rotate(148.6)"/>
<use href="#a" transform="translate(158.0 120.5) rotate(146.4)"/>
<use href="#a" transform="translate(189.5 120.5) rotate(140.6)"/>
<use href="#a" transform="translate(220.5 120.5) rotate(135.0)"/>
<use href="#a" transform="translate(251.5 120.5) rotate(129.0)"/>
<use href="#a" transform="translate(282.5 120.5) rotate(123.0)"/>
<use href="#a" transform="translate(313.5 120.5) rotate(117.0)"/>
<use href="#a" transform="translate(344.5 120.5) rotate(117.0)"/>
<use href="#a" transform="translate(375.5 120.5) rotate(117.0)"/>
<use href="#a" transform="translate(406.5 120.5) rotate(120.0)"/>
<use href="#a" transform="translate(437.5 120.5) rotate(126.0)"/>
<use href="#a" transform="translate(468.5 120.5) rotate(135.0)"/>
<use href="#a" transform="translate(499.5 120.5) rotate(137.8)"/>
<use href="#a" transform="translate(530.5 120.5) rotate(149.2)"/>
<use href="#a" transform="translate(562.0 120.5) rotate(152.0)"/>
<use href="#a" transform="translate(593.5 120.5) rotate(152.0)"/>
<use href="#a" transform="translate(624.5 120.5) rotate(152.0)"/>
<use href="#a" transform="translate(655.5 120.5) rotate(152.0)"/>
<use href="#a" transform="translate(686.5 120.5) rotate(152.0)"/>
<use href="#a" transform="translate(717.5 120.5) rotate(152.0)"/>
<use href="#a" transform="translate(748.5 120.5) rotate(152.0)"/>
<use href="#a" transform="translate(779.5 120.5) rotate(152.0)"/>
<use href="#a" transform="translate(810.5 120.5) rotate(152.0)"/>
<use href="#a" transform="translate(841.5 120.5) rotate(146.4)"/>
<use href="#a" transform="translate(872.5 120.5) rotate(143.0)"/>
<use href="#a" transform="translate(903.5 120.5) rotate(143.0)"/>
<use href="#a" transform="translate(934.5 120.5) rotate(143.0)"/>
<use href="#a" transform="translate(965.5 120.5) rotate(143.0)"/>
<use href="#a" transform="translate(996.5 120.5) rotate(143.0)"/>
<use href="#a" transform="translate(1028.0 120.5) rotate(143.0)"/>
<use href="#a" transform="translate(1059.5 120.5) rotate(143.0)"/>
<use href="#a" transform="translate(1090.5 120.5) rotate(143.0)"/>
<use href="#a" transform="translate(1121.5 120.5) rotate(143.0)"/>
<use href="#a" transform="translate(1152.5 120.5) rotate(202.5)"/>
<use href="#a" transform="translate(1183.5 120.5) rotate(241.9)"/>
<use href="#a" transform="translate(1214.5 120.5) rotate(229.4)"/>
<use href="#a" transform="translate(1245.5 120.5) rotate(213.8)"/>
<use href="#a" transform="translate(1276.5 120.5) rotate(202.5)"/>
<use href="#a" transform="translate(1307.5 120.5) rotate(198.8)"/>
<use href="#a" transform="translate(1338.5 120.5) rotate(202.5)"/>
<use href="#a" transform="translate(1369.5 120.5) rotate(196.9)"/>
<use href="#a" transform="translate(126.5 152.0) rotate(152.0)"/>
<use href="#a" transform="translate(158.0 152.0) rotate(152.0)"/>
<use href="#a" transform="translate(189.5 152.0) rotate(145.2)"/>
<use href="#a" transform="translate(220.5 152.0) rotate(137.7)"/>
<use href="#a" transform="translate(251.5 152.0) rotate(123.0)"/>
<use href="#a" transform="translate(282.5 152.0) rotate(117.0)"/>
<use href="#a" transform="translate(313.5 152.0) rotate(117.0)"/>
<use href="#a" transform="translate(344.5 152.0) rotate(117.0)"/>
<use href="#a" transform="translate(375.5 152.0) rotate(117.0)"/>
<use href="#a" transform="translate(406.5 152.0) rotate(117.0)"/>
<use href="#a" transform="translate(437.5 152.0) rotate(124.2)"/>
<use href="#a" transform="translate(468.5 152.0) rotate(132.0)"/>
<use href="#a" transform="translate(499.5 152.0) rotate(137.8)"/>
<use href="#a" transform="translate(530.5 152.0) rotate(149.2)"/>
<use href="#a" transform="translate(562.0 152.0) rotate(152.0)"/>
<use href="#a" transform="translate(593.5 152.0) rotate(152.0)"/>
<use href="#a" transform="translate(624.5 152.0) rotate(152.0)"/>
<use href="#a" transform="translate(655.5 152.0) rotate(152.0)"/>
<use href="#a" transform="translate(686.5 152.0) rotate(152.0)"/>
<use href="#a" transform="translate(717.5 152.0) rotate(152.0)"/>
<use href="#a" transform="translate(748.5 152.0) rotate(152.0)"/>
<use href="#a" transform="translate(779.5 152.0) rotate(152.0)"/>
<use href="#a" transform="translate(810.5 152.0) rotate(152.0)"/>
<use href="#a" transform="translate(841.5 152.0) rotate(149.2)"/>
<use href="#a" transform="translate(872.5 152.0) rotate(143.0)"/>
<use href="#a" transform="translate(903.5 152.0) rotate(143.0)"/>
<use href="#a" transform="translate(934.5 152.0) rotate(143.0)"/>
<use href="#a" transform="translate(965.5 152.0) rotate(143.0)"/>
<use href="#a" transform="translate(996.5 152.0) rotate(143.0)"/>
<use href="#a" transform="translate(1028.0 152.0) rotate(143.0)"/>
<use href="#a" transform="translate(1059.5 152.0) rotate(143.0)"/>
<use href="#a" transform="translate(1090.5 152.0) rotate(143.0)"/>
<use href="#a" transform="translate(1121.5 152.0) rotate(143.0)"/>
<use href="#a" transform="translate(1152.5 152.0) rotate(138.4)"/>
<use href="#a" transform="translate(1183.5 152.0) rotate(143.5)"/>
<use href="#a" transform="translate(1214.5 152.0) rotate(187.5)"/>
<use href="#a" transform="translate(1245.5 152.0) rotate(198.7)"/>
<use href="#a" transform="translate(1276.5 152.0) rotate(206.2)"/>
<use href="#a" transform="translate(1307.5 152.0) rotate(206.9)"/>
<use href="#a" transform="translate(1338.5 152.0) rotate(220.4)"/>
<use href="#a" transform="translate(1369.5 152.0) rotate(240.0)"/>
<use href="#a" transform="translate(126.5 183.5) rotate(180.0)"/>
<use href="#a" transform="translate(158.0 183.5) rotate(184.4)"/>
<use href="#a" transform="translate(189.5 183.5) rotate(185.6)"/>
<use href="#a" transform="translate(220.5 183.5) rotate(146.4)"/>
<use href="#a" transform="translate(251.5 183.5) rotate(117.0)"/>
<use href="#a" transform="translate(282.5 183.5) rotate(90.0)"/>
<use href="#a" transform="translate(313.5 183.5) rotate(90.0)"/>
<use href="#a" transform="translate(344.5 183.5) rotate(90.0)"/>
<use href="#a" transform="translate(375.5 183.5) rotate(90.0)"/>
<use href="#a" transform="translate(406.5 183.5) rotate(90.0)"/>
<use href="#a" transform="translate(437.5 183.5) rotate(90.0)"/>
<use href="#a" transform="translate(468.5 183.5) rotate(135.0)"/>
<use href="#a" transform="translate(499.5 183.5) rotate(140.6)"/>
<use href="#a" transform="translate(530.5 183.5) rotate(149.2)"/>
<use href="#a" transform="translate(562.0 183.5) rotate(152.0)"/>
<use href="#a" transform="translate(593.5 183.5) rotate(152.0)"/>
<use href="#a" transform="translate(624.5 183.5) rotate(152.0)"/>
<use href="#a" transform="translate(655.5 183.5) rotate(152.0)"/>
<use href="#a" transform="translate(686.5 183.5) rotate(152.0)"/>
<use href="#a" transform="translate(717.5 183.5) rotate(152.0)"/>
<use href="#a" transform="translate(748.5 183.5) rotate(152.0)"/>
<use href="#a" transform="translate(779.5 183.5) rotate(152.0)"/>
<use href="#a" transform="translate(810.5 183.5) rotate(152.0)"/>
<use href="#a" transform="translate(841.5 183.5) rotate(152.0)"/>
<use href="#a" transform="translate(872.5 183.5) rotate(146.4)"/>
<use href="#a" transform="translate(903.5 183.5) rotate(143.0)"/>
<use href="#a" transform="translate(934.5 183.5) rotate(143.0)"/>
<use href="#a" transform="translate(965.5 183.5) rotate(143.0)"/>
<use href="#a" transform="translate(996.5 183.5) rotate(143.0)"/>
<use href="#a" transform="translate(1028.0 183.5) rotate(143.0)"/>
<use href="#a" transform="translate(1059.5 183.5) rotate(143.0)"/>
<use href="#a" transform="translate(1090.5 183.5) rotate(143.0)"/>
<use href="#a" transform="translate(1121.5 183.5) rotate(143.0)"/>
<use href="#a" transform="translate(1152.5 183.5) rotate(135.0)"/>
<use href="#a" transform="translate(1183.5 183.5) rotate(140.6)"/>
<use href="#a" transform="translate(1214.5 183.5) rotate(143.5)"/>
<use href="#a" transform="translate(1245.5 183.5) rotate(187.5)"/>
<use href="#a" transform="translate(1276.5 183.5) rotate(225.0)"/>
<use href="#a" transform="translate(1307.5 183.5) rotate(240.0)"/>
<use href="#a" transform="translate(126.5 215.0) rotate(184.4)"/>
<use href="#a" transform="translate(158.0 215.0) rotate(195.0)"/>
<use href="#a" transform="translate(189.5 215.0) rotate(202.5)"/>
<use href="#a" transform="translate(220.5 215.0) rotate(217.5)"/>
<circle cx="251.5" cy="215.0" r="5.3" shape-rendering="auto"/>
<use href="#a" transform="translate(437.5 215.0) rotate(15.0)"/>
<use href="#a" transform="translate(468.5 215.0) rotate(139.2)"/>
<use href="#a" transform="translate(499.5 215.0) rotate(146.4)"/>
<use href="#a" transform="translate(530.5 215.0) rotate(152.0)"/>
<use href="#a" transform="translate(562.0 215.0) rotate(152.0)"/>
<use href="#a" transform="translate(593.5 215.0) rotate(152.0)"/>
<use href="#a" transform="translate(624.5 215.0) rotate(152.0)"/>
<use href="#a" transform="translate(655.5 215.0) rotate(152.0)"/>
<use href="#a" transform="translate(686.5 215.0) rotate(152.0)"/>
<use href="#a" transform="translate(717.5 215.0) rotate(152.0)"/>
<use href="#a" transform="translate(748.5 215.0) rotate(152.0)"/>
<use href="#a" transform="translate(779.5 215.0) rotate(152.0)"/>
<use href="#a" transform="translate(810.5 215.0) rotate(152.0)"/>
<use href="#a" transform="translate(841.5 215.0) rotate(152.0)"/>
<use href="#a" transform="translate(872.5 215.0) rotate(152.0)"/>
<use href="#a" transform="translate(903.5 215.0) rotate(149.2)"/>
<use href="#a" transform="translate(934.5 215.0) rotate(146.4)"/>
<use href="#a" transform="translate(965.5 215.0) rotate(143.0)"/>
<use href="#a" transform="translate(996.5 215.0) rotate(143.0)"/>
<use href="#a" transform="translate(1028.0 215.0) rotate(143.0)"/>
<use href="#a" transform="translate(1059.5 215.0) rotate(143.0)"/>
<use href="#a" transform="translate(1090.5 215.0) rotate(143.0)"/>
<use href="#a" transform="translate(1121.5 215.0) rotate(143.0)"/>
<use href="#a" transform="translate(1152.5 215.0) rotate(135.0)"/>
<use href="#a" transform="translate(1183.5 215.0) rotate(135.0)"/>
<use href="#a" transform="translate(1214.5 215.0) rotate(140.6)"/>
<use href="#a" transform="translate(1245.5 215.0) rotate(143.5)"/>
<use href="#a" transform="translate(1276.5 215.0) rotate(180.0)"/>
<use href="#a" transform="translate(126.5 246.5) rotate(184.4)"/>
<use href="#a" transform="translate(158.0 246.5) rotate(198.8)"/>
<use href="#a" transform="translate(189.5 246.5) rotate(206.9)"/>
<use href="#a" transform="translate(437.5 246.5) rotate(5.6)"/>
<use href="#a" transform="translate(468.5 246.5) rotate(67.5)"/>
<use href="#a" transform="translate(499.5 246.5) rotate(152.0)"/>
<use href="#a" transform="translate(530.5 246.5) rotate(180.0)"/>
<use href="#a" transform="translate(562.0 246.5) rotate(180.0)"/>
<use href="#a" transform="translate(593.5 246.5) rotate(180.0)"/>
<use href="#a" transform="translate(624.5 246.5) rotate(180.0)"/>
<use href="#a" transform="translate(655.5 246.5) rotate(180.0)"/>
<use href="#a" transform="translate(686.5 246.5) rotate(152.0)"/>
<use href="#a" transform="translate(717.5 246.5) rotate(152.0)"/>
<use href="#a" transform="translate(748.5 246.5) rotate(152.0)"/>
<use href="#a" transform="translate(779.5 246.5) rotate(152.0)"/>
<use href="#a" transform="translate(810.5 246.5) rotate(152.0)"/>
<use href="#a" transform="translate(841.5 246.5) rotate(152.0)"/>
<use href="#a" transform="translate(872.5 246.5) rotate(152.0)"/>
<use href="#a" transform="translate(903.5 246.5) rotate(152.0)"/>
<use href="#a" transform="translate(934.5 246.5) rotate(152.0)"/>
<use href="#a" transform="translate(965.5 246.5) rotate(149.2)"/>
<use href="#a" transform="translate(996.5 246.5) rotate(146.4)"/>
<use href="#a" transform="translate(1028.0 246.5) rotate(137.7)"/>
<use href="#a" transform="translate(1059.5 246.5) rotate(123.0)"/>
<use href="#a" transform="translate(1090.5 246.5) rotate(120.0)"/>
<use href="#a" transform="translate(1121.5 246.5) rotate(123.0)"/>
<use href="#a" transform="translate(1152.5 246.5) rotate(132.0)"/>
<use href="#a" transform="translate(1183.5 246.5) rotate(135.0)"/>
<use href="#a" transform="translate(1214.5 246.5) rotate(135.0)"/>
<use href="#a" transform="translate(1245.5 246.5) rotate(138.4)"/>
<use href="#a" transform="translate(1276.5 246.5) rotate(180.0)"/>
<use href="#a" transform="translate(126.5 278.0) rotate(184.4)"/>
<use href="#a" transform="translate(158.0 278.0) rotate(198.7)"/>
<use href="#a" transform="translate(189.5 278.0) rotate(213.8)"/>
<use href="#a" transform="translate(437.5 278.0) rotate(4.4)"/>
<use href="#a" transform="translate(468.5 278.0) rotate(16.9)"/>
<use href="#a" transform="translate(499.5 278.0) rotate(152.0)"/>
<use href="#a" transform="translate(530.5 278.0) rotate(180.0)"/>
<use href="#a" transform="translate(562.0 278.0) rotate(180.0)"/>
<use href="#a" transform="translate(593.5 278.0) rotate(183.7)"/>
<use href="#a" transform="translate(624.5 278.0) rotate(183.7)"/>
<use href="#a" transform="translate(655.5 278.0) rotate(183.7)"/>
<use href="#a" transform="translate(686.5 278.0) rotate(180.0)"/>
<use href="#a" transform="translate(717.5 278.0) rotate(152.0)"/>
<use href="#a" transform="translate(748.5 278.0) rotate(152.0)"/>
<use href="#a" transform="translate(779.5 278.0) rotate(152.0)"/>
<use href="#a" transform="translate(810.5 278.0) rotate(152.0)"/>
<use href="#a" transform="translate(841.5 278.0) rotate(152.0)"/>
<use href="#a" transform="translate(872.5 278.0) rotate(152.0)"/>
<use href="#a" transform="translate(903.5 278.0) rotate(152.0)"/>
<use href="#a" transform="translate(934.5 278.0) rotate(152.0)"/>
<use href="#a" transform="translate(965.5 278.0) rotate(152.0)"/>
<use href="#a" transform="translate(996.5 278.0) rotate(152.0)"/>
<use href="#a" transform="translate(1028.0 278.0) rotate(147.8)"/>
<use href="#a" transform="translate(1059.5 278.0) rotate(117.0)"/>
<use href="#a" transform="translate(1090.5 278.0) rotate(117.0)"/>
<use href="#a" transform="translate(1121.5 278.0) rotate(120.0)"/>
<use href="#a" transform="translate(1152.5 278.0) rotate(129.0)"/>
<use href="#a" transform="translate(1183.5 278.0) rotate(135.0)"/>
<use href="#a" transform="translate(1214.5 278.0) rotate(135.0)"/>
<use href="#a" transform="translate(1245.5 278.0) rotate(135.0)"/>
<use href="#a" transform="translate(1276.5 278.0) rotate(138.4)"/>
<use href="#a" transform="translate(1307.5 278.0) rotate(147.8)"/>
<use href="#a" transform="translate(1338.5 278.0) rotate(247.5)"/>
<use href="#a" transform="translate(1401.0 278.0) rotate(303.8)"/>
<use href="#a" transform="translate(1433.0 278.0) rotate(315.0)"/>
<use href="#a" transform="translate(126.5 309.5) rotate(180.0)"/>
<use href="#a" transform="translate(158.0 309.5) rotate(184.4)"/>
<use href="#a" transform="translate(437.5 309.5) rotate(9.0)"/>
<use href="#a" transform="translate(468.5 309.5) rotate(18.1)"/>
<use href="#a" transform="translate(499.5 309.5) rotate(185.6)"/>
<use href="#a" transform="translate(530.5 309.5) rotate(183.7)"/>
<use href="#a" transform="translate(562.0 309.5) rotate(187.5)"/>
<use href="#a" transform="translate(593.5 309.5) rotate(195.0)"/>
<use href="#a" transform="translate(624.5 309.5) rotate(198.8)"/>
<use href="#a" transform="translate(655.5 309.5) rotate(195.0)"/>
<use href="#a" transform="translate(686.5 309.5) rotate(184.4)"/>
<use href="#a" transform="translate(717.5 309.5) rotate(152.0)"/>
<use href="#a" transform="translate(748.5 309.5) rotate(152.0)"/>
<use href="#a" transform="translate(779.5 309.5) rotate(152.0)"/>
<use href="#a" transform="translate(810.5 309.5) rotate(152.0)"/>
<use href="#a" transform="translate(841.5 309.5) rotate(152.0)"/>
<use href="#a" transform="translate(872.5 309.5) rotate(152.0)"/>
<use href="#a" transform="translate(903.5 309.5) rotate(152.0)"/>
<use href="#a" transform="translate(934.5 309.5) rotate(152.0)"/>
<use href="#a" transform="translate(965.5 309.5) rotate(152.0)"/>
<use href="#a" transform="translate(996.5 309.5) rotate(180.0)"/>
<use href="#a" transform="translate(1028.0 309.5) rotate(180.0)"/>
<use href="#a" transform="translate(1090.5 309.5) rotate(117.0)"/>
<use href="#a" transform="translate(1121.5 309.5) rotate(117.0)"/>
<use href="#a" transform="translate(1152.5 309.5) rotate(126.0)"/>
<use href="#a" transform="translate(1183.5 309.5) rotate(129.0)"/>
<use href="#a" transform="translate(1214.5 309.5) rotate(135.0)"/>
<use href="#a" transform="translate(1245.5 309.5) rotate(135.0)"/>
<use href="#a" transform="translate(1276.5 309.5) rotate(140.6)"/>
<use href="#a" transform="translate(1307.5 309.5) rotate(149.2)"/>
<use href="#a" transform="translate(1338.5 309.5) rotate(152.0)"/>
<use href="#a" transform="translate(1369.5 309.5) rotate(315.0)"/>
<use href="#a" transform="translate(1401.0 309.5) rotate(315.0)"/>
<use href="#a" transform="translate(1433.0 309.5) rotate(328.5)"/>
<use href="#a" transform="translate(126.5 340.5) rotate(184.4)"/>
<use href="#a" transform="translate(158.0 340.5) rotate(180.0)"/>
<use href="#a" transform="translate(406.5 340.5) rotate(39.4)"/>
<use href="#a" transform="translate(437.5 340.5) rotate(26.3)"/>
<use href="#a" transform="translate(468.5 340.5) rotate(22.5)"/>
<use href="#a" transform="translate(499.5 340.5) rotate(198.1)"/>
<use href="#a" transform="translate(530.5 340.5) rotate(198.8)"/>
<use href="#a" transform="translate(562.0 340.5) rotate(198.8)"/>
<use href="#a" transform="translate(593.5 340.5) rotate(202.5)"/>
<use href="#a" transform="translate(624.5 340.5) rotate(202.5)"/>
<use href="#a" transform="translate(655.5 340.5) rotate(202.5)"/>
<use href="#a" transform="translate(686.5 340.5) rotate(189.0)"/>
<use href="#a" transform="translate(717.5 340.5) rotate(152.0)"/>
<use href="#a" transform="translate(748.5 340.5) rotate(152.0)"/>
<use href="#a" transform="translate(779.5 340.5) rotate(152.0)"/>
<use href="#a" transform="translate(810.5 340.5) rotate(152.0)"/>
<use href="#a" transform="translate(841.5 340.5) rotate(152.0)"/>
<use href="#a" transform="translate(872.5 340.5) rotate(152.0)"/>
<use href="#a" transform="translate(903.5 340.5) rotate(152.0)"/>
<use href="#a" transform="translate(934.5 340.5) rotate(152.0)"/>
<use href="#a" transform="translate(965.5 340.5) rotate(180.0)"/>
<use href="#a" transform="translate(996.5 340.5) rotate(180.0)"/>
<use href="#a" transform="translate(1028.0 340.5) rotate(180.0)"/>
<circle cx="1090.5" cy="340.5" r="5.3" shape-rendering="auto"/>
<use href="#a" transform="translate(1121.5 340.5) rotate(146.4)"/>
<use href="#a" transform="translate(1152.5 340.5) rotate(131.2)"/>
<use href="#a" transform="translate(1183.5 340.5) rotate(127.8)"/>
<use href="#a" transform="translate(1214.5 340.5) rotate(134.8)"/>
<use href="#a" transform="translate(1245.5 340.5) rotate(140.6)"/>
<use href="#a" transform="translate(1276.5 340.5) rotate(146.4)"/>
<use href="#a" transform="translate(1307.5 340.5) rotate(152.0)"/>
<use href="#a" transform="translate(1338.5 340.5) rotate(152.0)"/>
<use href="#a" transform="translate(1369.5 340.5) rotate(152.0)"/>
<use href="#a" transform="translate(1401.0 340.5) rotate(319.4)"/>
<use href="#a" transform="translate(1433.0 340.5) rotate(328.5)"/>
<use href="#a" transform="translate(126.5 372.0) rotate(197.9)"/>
<use href="#a" transform="translate(158.0 372.0) rotate(217.5)"/>
<use href="#a" transform="translate(375.5 372.0) rotate(45.0)"/>
<use href="#a" transform="translate(406.5 372.0) rotate(45.0)"/>
<use href="#a" transform="translate(437.5 372.0) rotate(39.4)"/>
<use href="#a" transform="translate(468.5 372.0) rotate(202.5)"/>
<use href="#a" transform="translate(499.5 372.0) rotate(202.5)"/>
<use href="#a" transform="translate(530.5 372.0) rotate(202.5)"/>
<use href="#a" transform="translate(562.0 372.0) rotate(202.5)"/>
<use href="#a" transform="translate(593.5 372.0) rotate(202.5)"/>
<use href="#a" transform="translate(624.5 372.0) rotate(210.0)"/>
<use href="#a" transform="translate(655.5 372.0) rotate(213.8)"/>
<use href="#a" transform="translate(686.5 372.0) rotate(207.1)"/>
<use href="#a" transform="translate(717.5 372.0) rotate(152.0)"/>
<use href="#a" transform="translate(748.5 372.0) rotate(152.0)"/>
<use href="#a" transform="translate(779.5 372.0) rotate(152.0)"/>
<use href="#a" transform="translate(810.5 372.0) rotate(152.0)"/>
<use href="#a" transform="translate(841.5 372.0) rotate(152.0)"/>
<use href="#a" transform="translate(872.5 372.0) rotate(152.0)"/>
<use href="#a" transform="translate(903.5 372.0) rotate(152.0)"/>
<use href="#a" transform="translate(934.5 372.0) rotate(152.0)"/>
<use href="#a" transform="translate(965.5 372.0) rotate(152.0)"/>
<use href="#a" transform="translate(996.5 372.0) rotate(152.0)"/>
<use href="#a" transform="translate(1028.0 372.0) rotate(152.0)"/>
<use href="#a" transform="translate(1059.5 372.0) rotate(202.5)"/>
<use href="#a" transform="translate(1090.5 372.0) rotate(270.0)"/>
<use href="#a" transform="translate(1121.5 372.0) rotate(225.0)"/>
<use href="#a" transform="translate(1152.5 372.0) rotate(180.0)"/>
<use href="#a" transform="translate(1214.5 372.0) rotate(148.6)"/>
<use href="#a" transform="translate(1245.5 372.0) rotate(149.2)"/>
<use href="#a" transform="translate(1276.5 372.0) rotate(152.0)"/>
<use href="#a" transform="translate(1307.5 372.0) rotate(152.0)"/>
<use href="#a" transform="translate(1338.5 372.0) rotate(152.0)"/>
<use href="#a" transform="translate(1369.5 372.0) rotate(152.0)"/>
<use href="#a" transform="translate(1401.0 372.0) rotate(310.6)"/>
<use href="#a" transform="translate(1433.0 372.0) rotate(319.4)"/>
<use href="#a" transform="translate(126.5 403.5) rotate(187.5)"/>
<use href="#a" transform="translate(189.5 403.5) rotate(45.0)"/>
<use href="#a" transform="translate(220.5 403.5) rotate(135.0)"/>
<use href="#a" transform="translate(344.5 403.5) rotate(45.0)"/>
<use href="#a" transform="translate(375.5 403.5) rotate(41.3)"/>
<use href="#a" transform="translate(406.5 403.5) rotate(40.6)"/>
<use href="#a" transform="translate(437.5 403.5) rotate(90.0)"/>
<use href="#a" transform="translate(468.5 403.5) rotate(202.5)"/>
<use href="#a" transform="translate(499.5 403.5) rotate(202.5)"/>
<use href="#a" transform="translate(530.5 403.5) rotate(202.5)"/>
<use href="#a" transform="translate(562.0 403.5) rotate(202.5)"/>
<use href="#a" transform="translate(593.5 403.5) rotate(206.2)"/>
<use href="#a" transform="translate(624.5 403.5) rotate(217.5)"/>
<use href="#a" transform="translate(655.5 403.5) rotate(225.0)"/>
<use href="#a" transform="translate(686.5 403.5) rotate(219.4)"/>
<use href="#a" transform="translate(717.5 403.5) rotate(152.0)"/>
<use href="#a" transform="translate(748.5 403.5) rotate(152.0)"/>
<use href="#a" transform="translate(779.5 403.5) rotate(152.0)"/>
<use href="#a" transform="translate(810.5 403.5) rotate(152.0)"/>
<use href="#a" transform="translate(841.5 403.5) rotate(152.0)"/>
<use href="#a" transform="translate(872.5 403.5) rotate(152.0)"/>
<use href="#a" transform="translate(903.5 403.5) rotate(152.0)"/>
<use href="#a" transform="translate(934.5 403.5) rotate(152.0)"/>
<use href="#a" transform="translate(965.5 403.5) rotate(152.0)"/>
<use href="#a" transform="translate(996.5 403.5) rotate(152.0)"/>
<use href="#a" transform="translate(1028.0 403.5) rotate(152.0)"/>
<use href="#a" transform="translate(1121.5 403.5) rotate(129.0)"/>
<use href="#a" transform="translate(1152.5 403.5) rotate(123.0)"/>
<use href="#a" transform="translate(1214.5 403.5) rotate(152.0)"/>
<use href="#a" transform="translate(1245.5 403.5) rotate(152.0)"/>
<use href="#a" transform="translate(1276.5 403.5) rotate(152.0)"/>
<use href="#a" transform="translate(1307.5 403.5) rotate(152.0)"/>
<use href="#a" transform="translate(1338.5 403.5) rotate(152.0)"/>
<use href="#a" transform="translate(1369.5 403.5) rotate(180.0)"/>
<use href="#a" transform="translate(1401.0 403.5) rotate(303.8)"/>
<use href="#a" transform="translate(1433.0 403.5) rotate(310.6)"/>
<use href="#a" transform="translate(126.5 435.0) rotate(159.0)"/>
<use href="#a" transform="translate(158.0 435.0) rotate(172.0)"/>
<use href="#a" transform="translate(189.5 435.0) rotate(270.0)"/>
<use href="#a" transform="translate(220.5 435.0) rotate(270.0)"/>
<use href="#a" transform="translate(251.5 435.0) rotate(270.0)"/>
<use href="#a" transform="translate(282.5 435.0) rotate(274.4)"/>
<use href="#a" transform="translate(313.5 435.0) rotate(286.9)"/>
<use href="#a" transform="translate(344.5 435.0) rotate(0.0)"/>
<use href="#a" transform="translate(375.5 435.0) rotate(18.7)"/>
<use href="#a" transform="translate(406.5 435.0) rotate(28.1)"/>
<use href="#a" transform="translate(437.5 435.0) rotate(202.5)"/>
<use href="#a" transform="translate(468.5 435.0) rotate(202.5)"/>
<use href="#a" transform="translate(499.5 435.0) rotate(202.5)"/>
<use href="#a" transform="translate(530.5 435.0) rotate(202.5)"/>
<use href="#a" transform="translate(562.0 435.0) rotate(202.5)"/>
<use href="#a" transform="translate(593.5 435.0) rotate(206.2)"/>
<use href="#a" transform="translate(624.5 435.0) rotate(219.4)"/>
<use href="#a" transform="translate(748.5 435.0) rotate(152.0)"/>
<use href="#a" transform="translate(779.5 435.0) rotate(152.0)"/>
<use href="#a" transform="translate(810.5 435.0) rotate(152.0)"/>
<use href="#a" transform="translate(841.5 435.0) rotate(152.0)"/>
<use href="#a" transform="translate(872.5 435.0) rotate(152.0)"/>
<use href="#a" transform="translate(903.5 435.0) rotate(152.0)"/>
<use href="#a" transform="translate(934.5 435.0) rotate(152.0)"/>
<use href="#a" transform="translate(965.5 435.0) rotate(152.0)"/>
<use href="#a" transform="translate(996.5 435.0) rotate(149.2)"/>
<use href="#a" transform="translate(1028.0 435.0) rotate(149.2)"/>
<use href="#a" transform="translate(1059.5 435.0) rotate(147.8)"/>
<use href="#a" transform="translate(1245.5 435.0) rotate(152.0)"/>
<use href="#a" transform="translate(1276.5 435.0) rotate(152.0)"/>
<use href="#a" transform="translate(1307.5 435.0) rotate(180.0)"/>
<use href="#a" transform="translate(1338.5 435.0) rotate(180.0)"/>
<use href="#a" transform="translate(1369.5 435.0) rotate(180.0)"/>
<use href="#a" transform="translate(1401.0 435.0) rotate(240.0)"/>
<use href="#a" transform="translate(1433.0 435.0) rotate(320.6)"/>
<use href="#a" transform="translate(126.5 466.5) rotate(143.5)"/>
<use href="#a" transform="translate(158.0 466.5) rotate(180.0)"/>
<use href="#a" transform="translate(189.5 466.5) rotate(270.0)"/>
<use href="#a" transform="translate(220.5 466.5) rotate(270.0)"/>
<use href="#a" transform="translate(251.5 466.5) rotate(270.0)"/>
<use href="#a" transform="translate(282.5 466.5) rotate(274.4)"/>
<use href="#a" transform="translate(313.5 466.5) rotate(288.1)"/>
<use href="#a" transform="translate(344.5 466.5) rotate(346.5)"/>
<use href="#a" transform="translate(375.5 466.5) rotate(355.4)"/>
<use href="#a" transform="translate(406.5 466.5) rotate(292.5)"/>
<use href="#a" transform="translate(437.5 466.5) rotate(202.5)"/>
<use href="#a" transform="translate(468.5 466.5) rotate(202.5)"/>
<use href="#a" transform="translate(499.5 466.5) rotate(202.5)"/>
<use href="#a" transform="translate(530.5 466.5) rotate(202.5)"/>
<use href="#a" transform="translate(562.0 466.5) rotate(202.5)"/>
<use href="#a" transform="translate(593.5 466.5) rotate(198.1)"/>
<use href="#a" transform="translate(624.5 466.5) rotate(187.5)"/>
<use href="#a" transform="translate(748.5 466.5) rotate(152.0)"/>
<use href="#a" transform="translate(779.5 466.5) rotate(152.0)"/>
<use href="#a" transform="translate(810.5 466.5) rotate(152.0)"/>
<use href="#a" transform="translate(841.5 466.5) rotate(152.0)"/>
<use href="#a" transform="translate(872.5 466.5) rotate(180.0)"/>
<use href="#a" transform="translate(903.5 466.5) rotate(180.0)"/>
<use href="#a" transform="translate(934.5 466.5) rotate(152.0)"/>
<use href="#a" transform="translate(965.5 466.5) rotate(149.2)"/>
<use href="#a" transform="translate(996.5 466.5) rotate(140.6)"/>
<use href="#a" transform="translate(1028.0 466.5) rotate(137.8)"/>
<use href="#a" transform="translate(1059.5 466.5) rotate(134.8)"/>
<use href="#a" transform="translate(1090.5 466.5) rotate(127.8)"/>
<use href="#a" transform="translate(1121.5 466.5) rotate(130.5)"/>
<use href="#a" transform="translate(1245.5 466.5) rotate(152.0)"/>
<use href="#a" transform="translate(1276.5 466.5) rotate(180.0)"/>
<use href="#a" transform="translate(1307.5 466.5) rotate(183.7)"/>
<use href="#a" transform="translate(1338.5 466.5) rotate(180.0)"/>
<use href="#a" transform="translate(1369.5 466.5) rotate(180.0)"/>
<use href="#a" transform="translate(1401.0 466.5) rotate(232.5)"/>
<use href="#a" transform="translate(1433.0 466.5) rotate(330.0)"/>
<use href="#a" transform="translate(126.5 498.0) rotate(134.8)"/>
<use href="#a" transform="translate(158.0 498.0) rotate(131.4)"/>
<use href="#a" transform="translate(189.5 498.0) rotate(130.5)"/>
<use href="#a" transform="translate(220.5 498.0) rotate(90.0)"/>
<use href="#a" transform="translate(251.5 498.0) rotate(129.0)"/>
<use href="#a" transform="translate(282.5 498.0) rotate(225.0)"/>
<use href="#a" transform="translate(313.5 498.0) rotate(292.5)"/>
<use href="#a" transform="translate(344.5 498.0) rotate(337.5)"/>
<use href="#a" transform="translate(375.5 498.0) rotate(341.9)"/>
<use href="#a" transform="translate(406.5 498.0) rotate(240.0)"/>
<use href="#a" transform="translate(437.5 498.0) rotate(198.1)"/>
<use href="#a" transform="translate(468.5 498.0) rotate(202.5)"/>
<use href="#a" transform="translate(499.5 498.0) rotate(202.5)"/>
<use href="#a" transform="translate(530.5 498.0) rotate(202.5)"/>
<use href="#a" transform="translate(562.0 498.0) rotate(202.5)"/>
<use href="#a" transform="translate(593.5 498.0) rotate(240.0)"/>
<use href="#a" transform="translate(624.5 498.0) rotate(232.5)"/>
<use href="#a" transform="translate(779.5 498.0) rotate(152.0)"/>
<use href="#a" transform="translate(810.5 498.0) rotate(152.0)"/>
<use href="#a" transform="translate(841.5 498.0) rotate(180.0)"/>
<use href="#a" transform="translate(872.5 498.0) rotate(180.0)"/>
<use href="#a" transform="translate(903.5 498.0) rotate(183.7)"/>
<use href="#a" transform="translate(934.5 498.0) rotate(180.0)"/>
<use href="#a" transform="translate(965.5 498.0) rotate(148.6)"/>
<use href="#a" transform="translate(996.5 498.0) rotate(137.8)"/>
<use href="#a" transform="translate(1028.0 498.0) rotate(135.0)"/>
<use href="#a" transform="translate(1059.5 498.0) rotate(135.0)"/>
<use href="#a" transform="translate(1090.5 498.0) rotate(132.0)"/>
<use href="#a" transform="translate(1121.5 498.0) rotate(137.8)"/>
<use href="#a" transform="translate(1152.5 498.0) rotate(147.8)"/>
<use href="#a" transform="translate(1183.5 498.0) rotate(315.0)"/>
<use href="#a" transform="translate(1214.5 498.0) rotate(67.5)"/>
<use href="#a" transform="translate(1245.5 498.0) rotate(185.6)"/>
<use href="#a" transform="translate(1276.5 498.0) rotate(187.5)"/>
<use href="#a" transform="translate(1307.5 498.0) rotate(191.2)"/>
<use href="#a" transform="translate(1338.5 498.0) rotate(187.5)"/>
<use href="#a" transform="translate(1369.5 498.0) rotate(180.0)"/>
<use href="#a" transform="translate(1401.0 498.0) rotate(135.0)"/>
<use href="#a" transform="translate(1433.0 498.0) rotate(30.0)"/>
<use href="#a" transform="translate(126.5 529.5) rotate(121.5)"/>
<use href="#a" transform="translate(158.0 529.5) rotate(120.6)"/>
<use href="#a" transform="translate(189.5 529.5) rotate(120.6)"/>
<use href="#a" transform="translate(220.5 529.5) rotate(90.0)"/>
<use href="#a" transform="translate(251.5 529.5) rotate(120.6)"/>
<use href="#a" transform="translate(282.5 529.5) rotate(117.0)"/>
<use href="#a" transform="translate(313.5 529.5) rotate(117.0)"/>
<use href="#a" transform="translate(344.5 529.5) rotate(45.0)"/>
<use href="#a" transform="translate(375.5 529.5) rotate(337.5)"/>
<use href="#a" transform="translate(406.5 529.5) rotate(225.0)"/>
<use href="#a" transform="translate(437.5 529.5) rotate(189.0)"/>
<use href="#a" transform="translate(468.5 529.5) rotate(195.0)"/>
<use href="#a" transform="translate(499.5 529.5) rotate(198.8)"/>
<use href="#a" transform="translate(530.5 529.5) rotate(198.8)"/>
<use href="#a" transform="translate(562.0 529.5) rotate(198.1)"/>
<use href="#a" transform="translate(779.5 529.5) rotate(152.0)"/>
<use href="#a" transform="translate(810.5 529.5) rotate(152.0)"/>
<use href="#a" transform="translate(841.5 529.5) rotate(180.0)"/>
<use href="#a" transform="translate(872.5 529.5) rotate(183.7)"/>
<use href="#a" transform="translate(903.5 529.5) rotate(191.2)"/>
<use href="#a" transform="translate(934.5 529.5) rotate(185.6)"/>
<use href="#a" transform="translate(965.5 529.5) rotate(147.8)"/>
<use href="#a" transform="translate(996.5 529.5) rotate(134.8)"/>
<use href="#a" transform="translate(1028.0 529.5) rotate(132.0)"/>
<use href="#a" transform="translate(1059.5 529.5) rotate(135.0)"/>
<use href="#a" transform="translate(1090.5 529.5) rotate(135.0)"/>
<use href="#a" transform="translate(1121.5 529.5) rotate(137.8)"/>
<use href="#a" transform="translate(1152.5 529.5) rotate(148.6)"/>
<use href="#a" transform="translate(1183.5 529.5) rotate(45.0)"/>
<use href="#a" transform="translate(1214.5 529.5) rotate(247.5)"/>
<use href="#a" transform="translate(1245.5 529.5) rotate(198.1)"/>
<use href="#a" transform="translate(1276.5 529.5) rotate(198.8)"/>
<use href="#a" transform="translate(1307.5 529.5) rotate(202.5)"/>
<use href="#a" transform="translate(1338.5 529.5) rotate(195.0)"/>
<use href="#a" transform="translate(1369.5 529.5) rotate(185.6)"/>
<use href="#a" transform="translate(1401.0 529.5) rotate(90.0)"/>
<use href="#a" transform="translate(1433.0 529.5) rotate(37.5)"/>
<use href="#a" transform="translate(126.5 561.0) rotate(84.4)"/>
<use href="#a" transform="translate(158.0 561.0) rotate(90.0)"/>
<use href="#a" transform="translate(189.5 561.0) rotate(117.0)"/>
<use href="#a" transform="translate(220.5 561.0) rotate(117.0)"/>
<use href="#a" transform="translate(251.5 561.0) rotate(117.0)"/>
<use href="#a" transform="translate(282.5 561.0) rotate(117.0)"/>
<use href="#a" transform="translate(313.5 561.0) rotate(117.0)"/>
<use href="#a" transform="translate(344.5 561.0) rotate(121.5)"/>
<use href="#a" transform="translate(375.5 561.0) rotate(45.0)"/>
<use href="#a" transform="translate(406.5 561.0) rotate(202.5)"/>
<use href="#a" transform="translate(437.5 561.0) rotate(183.7)"/>
<use href="#a" transform="translate(468.5 561.0) rotate(183.7)"/>
<use href="#a" transform="translate(499.5 561.0) rotate(183.7)"/>
<use href="#a" transform="translate(530.5 561.0) rotate(183.7)"/>
<use href="#a" transform="translate(562.0 561.0) rotate(184.4)"/>
<use href="#a" transform="translate(810.5 561.0) rotate(180.0)"/>
<use href="#a" transform="translate(841.5 561.0) rotate(180.0)"/>
<use href="#a" transform="translate(872.5 561.0) rotate(183.7)"/>
<use href="#a" transform="translate(903.5 561.0) rotate(193.5)"/>
<use href="#a" transform="translate(934.5 561.0) rotate(247.5)"/>
<use href="#a" transform="translate(996.5 561.0) rotate(121.5)"/>
<use href="#a" transform="translate(1028.0 561.0) rotate(124.2)"/>
<use href="#a" transform="translate(1059.5 561.0) rotate(134.8)"/>
<use href="#a" transform="translate(1090.5 561.0) rotate(137.8)"/>
<use href="#a" transform="translate(1121.5 561.0) rotate(140.6)"/>
<use href="#a" transform="translate(1152.5 561.0) rotate(146.4)"/>
<use href="#a" transform="translate(1183.5 561.0) rotate(143.5)"/>
<use href="#a" transform="translate(1214.5 561.0) rotate(202.5)"/>
<use href="#a" transform="translate(1245.5 561.0) rotate(202.5)"/>
<use href="#a" transform="translate(1276.5 561.0) rotate(206.2)"/>
<use href="#a" transform="translate(1307.5 561.0) rotate(206.2)"/>
<use href="#a" transform="translate(1338.5 561.0) rotate(202.5)"/>
<use href="#a" transform="translate(1369.5 561.0) rotate(152.0)"/>
<use href="#a" transform="translate(1401.0 561.0) rotate(270.0)"/>
<use href="#a" transform="translate(126.5 592.5) rotate(76.5)"/>
<use href="#a" transform="translate(158.0 592.5) rotate(86.3)"/>
<use href="#a" transform="translate(189.5 592.5) rotate(90.0)"/>
<use href="#a" transform="translate(220.5 592.5) rotate(90.0)"/>
<use href="#a" transform="translate(251.5 592.5) rotate(117.0)"/>
<use href="#a" transform="translate(282.5 592.5) rotate(117.0)"/>
<use href="#a" transform="translate(313.5 592.5) rotate(123.0)"/>
<use href="#a" transform="translate(344.5 592.5) rotate(129.0)"/>
<use href="#a" transform="translate(375.5 592.5) rotate(138.4)"/>
<use href="#a" transform="translate(406.5 592.5) rotate(143.5)"/>
<use href="#a" transform="translate(437.5 592.5) rotate(180.0)"/>
<use href="#a" transform="translate(468.5 592.5) rotate(180.0)"/>
<use href="#a" transform="translate(499.5 592.5) rotate(180.0)"/>
<use href="#a" transform="translate(530.5 592.5) rotate(180.0)"/>
<use href="#a" transform="translate(562.0 592.5) rotate(180.0)"/>
<use href="#a" transform="translate(779.5 592.5) rotate(37.5)"/>
<use href="#a" transform="translate(810.5 592.5) rotate(180.0)"/>
<use href="#a" transform="translate(841.5 592.5) rotate(180.0)"/>
<use href="#a" transform="translate(872.5 592.5) rotate(180.0)"/>
<use href="#a" transform="translate(903.5 592.5) rotate(184.4)"/>
<use href="#a" transform="translate(1059.5 592.5) rotate(145.2)"/>
<use href="#a" transform="translate(1090.5 592.5) rotate(149.2)"/>
<use href="#a" transform="translate(1121.5 592.5) rotate(149.2)"/>
<use href="#a" transform="translate(1152.5 592.5) rotate(152.0)"/>
<use href="#a" transform="translate(1183.5 592.5) rotate(147.8)"/>
<use href="#a" transform="translate(1214.5 592.5) rotate(202.5)"/>
<use href="#a" transform="translate(1245.5 592.5) rotate(206.2)"/>
<use href="#a" transform="translate(1276.5 592.5) rotate(217.5)"/>
<use href="#a" transform="translate(1307.5 592.5) rotate(225.0)"/>
<use href="#a" transform="translate(1338.5 592.5) rotate(241.9)"/>
<use href="#a" transform="translate(1369.5 592.5) rotate(247.5)"/>
<use href="#a" transform="translate(126.5 624.0) rotate(73.1)"/>
<use href="#a" transform="translate(158.0 624.0) rotate(84.4)"/>
<use href="#a" transform="translate(282.5 624.0) rotate(121.5)"/>
<use href="#a" transform="translate(313.5 624.0) rotate(129.0)"/>
<use href="#a" transform="translate(344.5 624.0) rotate(135.0)"/>
<use href="#a" transform="translate(375.5 624.0) rotate(135.0)"/>
<use href="#a" transform="translate(406.5 624.0) rotate(143.5)"/>
<use href="#a" transform="translate(437.5 624.0) rotate(148.6)"/>
<use href="#a" transform="translate(468.5 624.0) rotate(152.0)"/>
<use href="#a" transform="translate(499.5 624.0) rotate(152.0)"/>
<use href="#a" transform="translate(530.5 624.0) rotate(180.0)"/>
<use href="#a" transform="translate(562.0 624.0) rotate(180.0)"/>
<use href="#a" transform="translate(779.5 624.0) rotate(22.5)"/>
<use href="#a" transform="translate(810.5 624.0) rotate(180.0)"/>
<use href="#a" transform="translate(841.5 624.0) rotate(180.0)"/>
<use href="#a" transform="translate(872.5 624.0) rotate(180.0)"/>
<use href="#a" transform="translate(903.5 624.0) rotate(180.0)"/>
<use href="#a" transform="translate(934.5 624.0) rotate(315.0)"/>
<use href="#a" transform="translate(1028.0 624.0) rotate(52.5)"/>
<use href="#a" transform="translate(1059.5 624.0) rotate(143.5)"/>
<use href="#a" transform="translate(1090.5 624.0) rotate(149.2)"/>
<use href="#a" transform="translate(1121.5 624.0) rotate(152.0)"/>
<use href="#a" transform="translate(1152.5 624.0) rotate(152.0)"/>
<use href="#a" transform="translate(1183.5 624.0) rotate(185.6)"/>
<use href="#a" transform="translate(1214.5 624.0) rotate(198.8)"/>
<use href="#a" transform="translate(1245.5 624.0) rotate(206.2)"/>
<use href="#a" transform="translate(1276.5 624.0) rotate(216.0)"/>
<use href="#a" transform="translate(313.5 655.5) rotate(138.4)"/>
<use href="#a" transform="translate(344.5 655.5) rotate(137.8)"/>
<use href="#a" transform="translate(375.5 655.5) rotate(140.6)"/>
<use href="#a" transform="translate(406.5 655.5) rotate(146.4)"/>
<use href="#a" transform="translate(437.5 655.5) rotate(152.0)"/>
<use href="#a" transform="translate(468.5 655.5) rotate(152.0)"/>
<use href="#a" transform="translate(499.5 655.5) rotate(152.0)"/>
<use href="#a" transform="translate(530.5 655.5) rotate(152.0)"/>
<use href="#a" transform="translate(562.0 655.5) rotate(148.6)"/>
<use href="#a" transform="translate(593.5 655.5) rotate(143.5)"/>
<use href="#a" transform="translate(779.5 655.5) rotate(0.0)"/>
<use href="#a" transform="translate(810.5 655.5) rotate(180.0)"/>
<use href="#a" transform="translate(841.5 655.5) rotate(180.0)"/>
<use href="#a" transform="translate(872.5 655.5) rotate(180.0)"/>
<use href="#a" transform="translate(903.5 655.5) rotate(180.0)"/>
<use href="#a" transform="translate(934.5 655.5) rotate(315.0)"/>
<use href="#a" transform="translate(965.5 655.5) rotate(320.6)"/>
<use href="#a" transform="translate(996.5 655.5) rotate(45.0)"/>
<use href="#a" transform="translate(1028.0 655.5) rotate(59.8)"/>
<use href="#a" transform="translate(1059.5 655.5) rotate(84.4)"/>
<use href="#a" transform="translate(1090.5 655.5) rotate(152.0)"/>
<use href="#a" transform="translate(1121.5 655.5) rotate(152.0)"/>
<use href="#a" transform="translate(1152.5 655.5) rotate(180.0)"/>
<use href="#a" transform="translate(1183.5 655.5) rotate(183.7)"/>
<use href="#a" transform="translate(1214.5 655.5) rotate(198.8)"/>
<use href="#a" transform="translate(1245.5 655.5) rotate(202.5)"/>
<use href="#a" transform="translate(1276.5 655.5) rotate(208.1)"/>
<use href="#a" transform="translate(313.5 687.0) rotate(147.8)"/>
<use href="#a" transform="translate(344.5 687.0) rotate(146.4)"/>
<use href="#a" transform="translate(375.5 687.0) rotate(149.2)"/>
<use href="#a" transform="translate(406.5 687.0) rotate(152.0)"/>
<use href="#a" transform="translate(437.5 687.0) rotate(152.0)"/>
<use href="#a" transform="translate(468.5 687.0) rotate(152.0)"/>
<use href="#a" transform="translate(499.5 687.0) rotate(152.0)"/>
<use href="#a" transform="translate(530.5 687.0) rotate(152.0)"/>
<use href="#a" transform="translate(562.0 687.0) rotate(152.0)"/>
<use href="#a" transform="translate(593.5 687.0) rotate(148.6)"/>
<use href="#a" transform="translate(779.5 687.0) rotate(345.0)"/>
<use href="#a" transform="translate(810.5 687.0) rotate(173.0)"/>
<use href="#a" transform="translate(841.5 687.0) rotate(173.0)"/>
<use href="#a" transform="translate(872.5 687.0) rotate(173.0)"/>
<use href="#a" transform="translate(903.5 687.0) rotate(173.0)"/>
<use href="#a" transform="translate(934.5 687.0) rotate(180.0)"/>
<use href="#a" transform="translate(965.5 687.0) rotate(331.9)"/>
<use href="#a" transform="translate(996.5 687.0) rotate(27.1)"/>
<use href="#a" transform="translate(1028.0 687.0) rotate(40.4)"/>
<use href="#a" transform="translate(1059.5 687.0) rotate(90.0)"/>
<use href="#a" transform="translate(1090.5 687.0) rotate(180.0)"/>
<use href="#a" transform="translate(1121.5 687.0) rotate(180.0)"/>
<use href="#a" transform="translate(1152.5 687.0) rotate(180.0)"/>
<use href="#a" transform="translate(1183.5 687.0) rotate(183.7)"/>
<use href="#a" transform="translate(1214.5 687.0) rotate(195.0)"/>
<use href="#a" transform="translate(1245.5 687.0) rotate(198.1)"/>
<use href="#a" transform="translate(313.5 718.5) rotate(123.0)"/>
<use href="#a" transform="translate(344.5 718.5) rotate(137.7)"/>
<use href="#a" transform="translate(375.5 718.5) rotate(149.2)"/>
<use href="#a" transform="translate(406.5 718.5) rotate(152.0)"/>
<use href="#a" transform="translate(437.5 718.5) rotate(152.0)"/>
<use href="#a" transform="translate(468.5 718.5) rotate(152.0)"/>
<use href="#a" transform="translate(499.5 718.5) rotate(152.0)"/>
<use href="#a" transform="translate(530.5 718.5) rotate(152.0)"/>
<use href="#a" transform="translate(562.0 718.5) rotate(152.0)"/>
<use href="#a" transform="translate(593.5 718.5) rotate(152.0)"/>
<use href="#a" transform="translate(624.5 718.5) rotate(152.0)"/>
<use href="#a" transform="translate(779.5 718.5) rotate(247.5)"/>
<use href="#a" transform="translate(810.5 718.5) rotate(173.0)"/>
<use href="#a" transform="translate(841.5 718.5) rotate(173.0)"/>
<use href="#a" transform="translate(872.5 718.5) rotate(173.0)"/>
<use href="#a" transform="translate(903.5 718.5) rotate(173.0)"/>
<use href="#a" transform="translate(934.5 718.5) rotate(152.0)"/>
<use href="#a" transform="translate(965.5 718.5) rotate(341.9)"/>
<use href="#a" transform="translate(996.5 718.5) rotate(0.0)"/>
<use href="#a" transform="translate(1028.0 718.5) rotate(22.5)"/>
<use href="#a" transform="translate(1059.5 718.5) rotate(152.0)"/>
<use href="#a" transform="translate(1090.5 718.5) rotate(180.0)"/>
<use href="#a" transform="translate(1121.5 718.5) rotate(180.0)"/>
<use href="#a" transform="translate(1152.5 718.5) rotate(180.0)"/>
<use href="#a" transform="translate(1183.5 718.5) rotate(180.0)"/>
<use href="#a" transform="translate(1214.5 718.5) rotate(183.7)"/>
<use href="#a" transform="translate(1245.5 718.5) rotate(184.4)"/>
<use href="#a" transform="translate(313.5 750.0) rotate(0.0)"/>
<use href="#a" transform="translate(344.5 750.0) rotate(139.2)"/>
<use href="#a" transform="translate(375.5 750.0) rotate(149.2)"/>
<use href="#a" transform="translate(406.5 750.0) rotate(152.0)"/>
<use href="#a" transform="translate(437.5 750.0) rotate(152.0)"/>
<use href="#a" transform="translate(468.5 750.0) rotate(152.0)"/>
<use href="#a" transform="translate(499.5 750.0) rotate(152.0)"/>
<use href="#a" transform="translate(530.5 750.0) rotate(152.0)"/>
<use href="#a" transform="translate(562.0 750.0) rotate(152.0)"/>
<use href="#a" transform="translate(593.5 750.0) rotate(152.0)"/>
<use href="#a" transform="translate(624.5 750.0) rotate(152.0)"/>
<use href="#a" transform="translate(779.5 750.0) rotate(191.2)"/>
<use href="#a" transform="translate(810.5 750.0) rotate(173.0)"/>
<use href="#a" transform="translate(841.5 750.0) rotate(173.0)"/>
<use href="#a" transform="translate(872.5 750.0) rotate(173.0)"/>
<use href="#a" transform="translate(903.5 750.0) rotate(152.0)"/>
<use href="#a" transform="translate(934.5 750.0) rotate(152.0)"/>
<use href="#a" transform="translate(965.5 750.0) rotate(337.5)"/>
<use href="#a" transform="translate(996.5 750.0) rotate(333.7)"/>
<use href="#a" transform="translate(1028.0 750.0) rotate(315.0)"/>
<use href="#a" transform="translate(1059.5 750.0) rotate(255.0)"/>
<use href="#a" transform="translate(1090.5 750.0) rotate(184.4)"/>
<use href="#a" transform="translate(1121.5 750.0) rotate(180.0)"/>
<use href="#a" transform="translate(1152.5 750.0) rotate(180.0)"/>
<use href="#a" transform="translate(1183.5 750.0) rotate(180.0)"/>
<use href="#a" transform="translate(1214.5 750.0) rotate(180.0)"/>
<use href="#a" transform="translate(1245.5 750.0) rotate(180.0)"/>
<use href="#a" transform="translate(313.5 781.5) rotate(0.0)"/>
<use href="#a" transform="translate(344.5 781.5) rotate(15.0)"/>
<use href="#a" transform="translate(375.5 781.5) rotate(152.0)"/>
<use href="#a" transform="translate(406.5 781.5) rotate(152.0)"/>
<use href="#a" transform="translate(437.5 781.5) rotate(152.0)"/>
<use href="#a" transform="translate(468.5 781.5) rotate(152.0)"/>
<use href="#a" transform="translate(499.5 781.5) rotate(152.0)"/>
<use href="#a" transform="translate(530.5 781.5) rotate(152.0)"/>
<use href="#a" transform="translate(562.0 781.5) rotate(152.0)"/>
<use href="#a" transform="translate(593.5 781.5) rotate(152.0)"/>
<use href="#a" transform="translate(624.5 781.5) rotate(152.0)"/>
<use href="#a" transform="translate(655.5 781.5) rotate(195.0)"/>
<use href="#a" transform="translate(686.5 781.5) rotate(264.4)"/>
<use href="#a" transform="translate(717.5 781.5) rotate(275.6)"/>
<use href="#a" transform="translate(748.5 781.5) rotate(315.0)"/>
<use href="#a" transform="translate(779.5 781.5) rotate(189.0)"/>
<use href="#a" transform="translate(810.5 781.5) rotate(173.0)"/>
<use href="#a" transform="translate(841.5 781.5) rotate(173.0)"/>
<use href="#a" transform="translate(872.5 781.5) rotate(173.0)"/>
<use href="#a" transform="translate(903.5 781.5) rotate(173.0)"/>
<use href="#a" transform="translate(934.5 781.5) rotate(152.0)"/>
<use href="#a" transform="translate(965.5 781.5) rotate(331.9)"/>
<use href="#a" transform="translate(996.5 781.5) rotate(318.8)"/>
<use href="#a" transform="translate(1028.0 781.5) rotate(296.3)"/>
<use href="#a" transform="translate(1059.5 781.5) rotate(270.0)"/>
<use href="#a" transform="translate(1090.5 781.5) rotate(193.5)"/>
<use href="#a" transform="translate(1121.5 781.5) rotate(183.7)"/>
<use href="#a" transform="translate(1152.5 781.5) rotate(180.0)"/>
<use href="#a" transform="translate(1183.5 781.5) rotate(180.0)"/>
<use href="#a" transform="translate(1214.5 781.5) rotate(180.0)"/>
<use href="#a" transform="translate(1245.5 781.5) rotate(180.0)"/>
<use href="#a" transform="translate(313.5 813.0) rotate(343.1)"/>
<use href="#a" transform="translate(344.5 813.0) rotate(337.5)"/>
<use href="#a" transform="translate(375.5 813.0) rotate(152.0)"/>
<use href="#a" transform="translate(406.5 813.0) rotate(152.0)"/>
<use href="#a" transform="translate(437.5 813.0) rotate(152.0)"/>
<use href="#a" transform="translate(468.5 813.0) rotate(152.0)"/>
<use href="#a" transform="translate(499.5 813.0) rotate(152.0)"/>
<use href="#a" transform="translate(530.5 813.0) rotate(152.0)"/>
<use href="#a" transform="translate(562.0 813.0) rotate(152.0)"/>
<use href="#a" transform="translate(593.5 813.0) rotate(152.0)"/>
<use href="#a" transform="translate(624.5 813.0) rotate(152.0)"/>
<use href="#a" transform="translate(655.5 813.0) rotate(185.6)"/>
<use href="#a" transform="translate(686.5 813.0) rotate(255.0)"/>
<use href="#a" transform="translate(717.5 813.0) rotate(292.5)"/>
<use href="#a" transform="translate(748.5 813.0) rotate(310.6)"/>
<use href="#a" transform="translate(779.5 813.0) rotate(191.2)"/>
<use href="#a" transform="translate(810.5 813.0) rotate(173.0)"/>
<use href="#a" transform="translate(841.5 813.0) rotate(173.0)"/>
<use href="#a" transform="translate(872.5 813.0) rotate(173.0)"/>
<use href="#a" transform="translate(903.5 813.0) rotate(173.0)"/>
<use href="#a" transform="translate(934.5 813.0) rotate(152.0)"/>
<use href="#a" transform="translate(965.5 813.0) rotate(152.0)"/>
<use href="#a" transform="translate(996.5 813.0) rotate(309.4)"/>
<use href="#a" transform="translate(1028.0 813.0) rotate(292.5)"/>
<use href="#a" transform="translate(1059.5 813.0) rotate(274.4)"/>
<use href="#a" transform="translate(1090.5 813.0) rotate(193.5)"/>
<use href="#a" transform="translate(1121.5 813.0) rotate(184.4)"/>
<use href="#a" transform="translate(1152.5 813.0) rotate(180.0)"/>
<use href="#a" transform="translate(1183.5 813.0) rotate(180.0)"/>
<use href="#a" transform="translate(1214.5 813.0) rotate(180.0)"/>
<use href="#a" transform="translate(1245.5 813.0) rotate(180.0)"/>
<use href="#a" transform="translate(344.5 844.5) rotate(300.0)"/>
<use href="#a" transform="translate(375.5 844.5) rotate(307.5)"/>
<use href="#a" transform="translate(406.5 844.5) rotate(152.0)"/>
<use href="#a" transform="translate(437.5 844.5) rotate(152.0)"/>
<use href="#a" transform="translate(468.5 844.5) rotate(152.0)"/>
<use href="#a" transform="translate(499.5 844.5) rotate(152.0)"/>
<use href="#a" transform="translate(530.5 844.5) rotate(152.0)"/>
<use href="#a" transform="translate(562.0 844.5) rotate(152.0)"/>
<use href="#a" transform="translate(593.5 844.5) rotate(152.0)"/>
<use href="#a" transform="translate(624.5 844.5) rotate(152.0)"/>
<use href="#a" transform="translate(655.5 844.5) rotate(185.6)"/>
<use href="#a" transform="translate(686.5 844.5) rotate(195.0)"/>
<use href="#a" transform="translate(717.5 844.5) rotate(298.1)"/>
<use href="#a" transform="translate(748.5 844.5) rotate(315.0)"/>
<use href="#a" transform="translate(779.5 844.5) rotate(255.0)"/>
<use href="#a" transform="translate(810.5 844.5) rotate(173.0)"/>
<use href="#a" transform="translate(841.5 844.5) rotate(173.0)"/>
<use href="#a" transform="translate(872.5 844.5) rotate(152.0)"/>
<use href="#a" transform="translate(903.5 844.5) rotate(152.0)"/>
<use href="#a" transform="translate(934.5 844.5) rotate(152.0)"/>
<use href="#a" transform="translate(965.5 844.5) rotate(149.2)"/>
<use href="#a" transform="translate(996.5 844.5) rotate(139.2)"/>
<use href="#a" transform="translate(1028.0 844.5) rotate(286.9)"/>
<use href="#a" transform="translate(1059.5 844.5) rotate(275.6)"/>
<use href="#a" transform="translate(1090.5 844.5) rotate(187.5)"/>
<use href="#a" transform="translate(1121.5 844.5) rotate(152.0)"/>
<use href="#a" transform="translate(1152.5 844.5) rotate(180.0)"/>
<use href="#a" transform="translate(1183.5 844.5) rotate(180.0)"/>
<use href="#a" transform="translate(1214.5 844.5) rotate(180.0)"/>
<use href="#a" transform="translate(1245.5 844.5) rotate(180.0)"/>
<use href="#a" transform="translate(375.5 876.0) rotate(0.0)"/>
<use href="#a" transform="translate(406.5 876.0) rotate(152.0)"/>
<use href="#a" transform="translate(437.5 876.0) rotate(152.0)"/>
<use href="#a" transform="translate(468.5 876.0) rotate(152.0)"/>
<use href="#a" transform="translate(499.5 876.0) rotate(152.0)"/>
<use href="#a" transform="translate(530.5 876.0) rotate(152.0)"/>
<use href="#a" transform="translate(562.0 876.0) rotate(152.0)"/>
<use href="#a" transform="translate(593.5 876.0) rotate(152.0)"/>
<use href="#a" transform="translate(624.5 876.0) rotate(152.0)"/>
<use href="#a" transform="translate(655.5 876.0) rotate(152.0)"/>
<use href="#a" transform="translate(686.5 876.0) rotate(147.8)"/>
<use href="#a" transform="translate(717.5 876.0) rotate(67.5)"/>
<use href="#a" transform="translate(748.5 876.0) rotate(330.0)"/>
<use href="#a" transform="translate(779.5 876.0) rotate(262.5)"/>
<use href="#a" transform="translate(810.5 876.0) rotate(180.0)"/>
<use href="#a" transform="translate(841.5 876.0) rotate(180.0)"/>
<use href="#a" transform="translate(872.5 876.0) rotate(152.0)"/>
<use href="#a" transform="translate(903.5 876.0) rotate(152.0)"/>
<use href="#a" transform="translate(934.5 876.0) rotate(152.0)"/>
<use href="#a" transform="translate(965.5 876.0) rotate(146.4)"/>
<use href="#a" transform="translate(996.5 876.0) rotate(134.8)"/>
<use href="#a" transform="translate(1028.0 876.0) rotate(121.5)"/>
<use href="#a" transform="translate(1059.5 876.0) rotate(78.8)"/>
<use href="#a" transform="translate(1090.5 876.0) rotate(84.4)"/>
<use href="#a" transform="translate(1121.5 876.0) rotate(148.6)"/>
<use href="#a" transform="translate(1152.5 876.0) rotate(152.0)"/>
<use href="#a" transform="translate(1183.5 876.0) rotate(152.0)"/>
<use href="#a" transform="translate(1214.5 876.0) rotate(152.0)"/>
<use href="#a" transform="translate(1245.5 876.0) rotate(148.6)"/>
<use href="#a" transform="translate(1276.5 876.0) rotate(143.5)"/>
<use href="#a" transform="translate(375.5 907.5) rotate(0.0)"/>
<use href="#a" transform="translate(406.5 907.5) rotate(152.0)"/>
<use href="#a" transform="translate(437.5 907.5) rotate(152.0)"/>
<use href="#a" transform="translate(468.5 907.5) rotate(152.0)"/>
<use href="#a" transform="translate(499.5 907.5) rotate(152.0)"/>
<use href="#a" transform="translate(530.5 907.5) rotate(152.0)"/>
<use href="#a" transform="translate(562.0 907.5) rotate(152.0)"/>
<use href="#a" transform="translate(593.5 907.5) rotate(152.0)"/>
<use href="#a" transform="translate(624.5 907.5) rotate(152.0)"/>
<use href="#a" transform="translate(655.5 907.5) rotate(149.2)"/>
<use href="#a" transform="translate(686.5 907.5) rotate(137.7)"/>
<use href="#a" transform="translate(717.5 907.5) rotate(126.0)"/>
<use href="#a" transform="translate(748.5 907.5) rotate(90.0)"/>
<use href="#a" transform="translate(779.5 907.5) rotate(146.4)"/>
<use href="#a" transform="translate(810.5 907.5) rotate(180.0)"/>
<use href="#a" transform="translate(841.5 907.5) rotate(180.0)"/>
<use href="#a" transform="translate(872.5 907.5) rotate(152.0)"/>
<use href="#a" transform="translate(903.5 907.5) rotate(152.0)"/>
<use href="#a" transform="translate(934.5 907.5) rotate(149.2)"/>
<use href="#a" transform="translate(965.5 907.5) rotate(140.6)"/>
<use href="#a" transform="translate(996.5 907.5) rotate(132.0)"/>
<use href="#a" transform="translate(1028.0 907.5) rotate(120.6)"/>
<use href="#a" transform="translate(1059.5 907.5) rotate(85.6)"/>
<use href="#a" transform="translate(1090.5 907.5) rotate(90.0)"/>
<use href="#a" transform="translate(1121.5 907.5) rotate(138.2)"/>
<use href="#a" transform="translate(1152.5 907.5) rotate(146.4)"/>
<use href="#a" transform="translate(1183.5 907.5) rotate(152.0)"/>
<use href="#a" transform="translate(1214.5 907.5) rotate(152.0)"/>
<use href="#a" transform="translate(1245.5 907.5) rotate(152.0)"/>
<use href="#a" transform="translate(1276.5 907.5) rotate(148.6)"/>
<use href="#a" transform="translate(1307.5 907.5) rotate(225.0)"/>
<use href="#a" transform="translate(1338.5 907.5) rotate(264.4)"/>
<use href="#a" transform="translate(1369.5 907.5) rotate(270.0)"/>
<use href="#a" transform="translate(1401.0 907.5) rotate(270.0)"/>
<use href="#a" transform="translate(1433.0 907.5) rotate(275.6)"/>
<use href="#a" transform="translate(375.5 939.0) rotate(355.6)"/>
<use href="#a" transform="translate(406.5 939.0) rotate(343.1)"/>
<use href="#a" transform="translate(437.5 939.0) rotate(152.0)"/>
<use href="#a" transform="translate(468.5 939.0) rotate(152.0)"/>
<use href="#a" transform="translate(499.5 939.0) rotate(149.2)"/>
<use href="#a" transform="translate(530.5 939.0) rotate(152.0)"/>
<use href="#a" transform="translate(562.0 939.0) rotate(152.0)"/>
<use href="#a" transform="translate(593.5 939.0) rotate(152.0)"/>
<use href="#a" transform="translate(624.5 939.0) rotate(152.0)"/>
<use href="#a" transform="translate(655.5 939.0) rotate(149.2)"/>
<use href="#a" transform="translate(686.5 939.0) rotate(137.8)"/>
<use href="#a" transform="translate(717.5 939.0) rotate(129.0)"/>
<use href="#a" transform="translate(748.5 939.0) rotate(124.2)"/>
<use href="#a" transform="translate(779.5 939.0) rotate(134.8)"/>
<use href="#a" transform="translate(810.5 939.0) rotate(180.0)"/>
<use href="#a" transform="translate(841.5 939.0) rotate(180.0)"/>
<use href="#a" transform="translate(872.5 939.0) rotate(152.0)"/>
<use href="#a" transform="translate(903.5 939.0) rotate(152.0)"/>
<use href="#a" transform="translate(934.5 939.0) rotate(149.2)"/>
<use href="#a" transform="translate(965.5 939.0) rotate(137.8)"/>
<use href="#a" transform="translate(996.5 939.0) rotate(132.0)"/>
<use href="#a" transform="translate(1028.0 939.0) rotate(120.6)"/>
<use href="#a" transform="translate(1059.5 939.0) rotate(90.0)"/>
<use href="#a" transform="translate(1090.5 939.0) rotate(90.0)"/>
<use href="#a" transform="translate(1121.5 939.0) rotate(124.2)"/>
<use href="#a" transform="translate(1152.5 939.0) rotate(137.7)"/>
<use href="#a" transform="translate(1183.5 939.0) rotate(149.2)"/>
<use href="#a" transform="translate(1214.5 939.0) rotate(152.0)"/>
<use href="#a" transform="translate(1245.5 939.0) rotate(152.0)"/>
<use href="#a" transform="translate(1276.5 939.0) rotate(148.6)"/>
<use href="#a" transform="translate(1307.5 939.0) rotate(180.0)"/>
<use href="#a" transform="translate(1338.5 939.0) rotate(238.0)"/>
<use href="#a" transform="translate(1369.5 939.0) rotate(265.6)"/>
<use href="#a" transform="translate(1401.0 939.0) rotate(277.5)"/>
<use href="#a" transform="translate(1433.0 939.0) rotate(287.9)"/>
<use href="#a" transform="translate(375.5 970.5) rotate(355.6)"/>
<use href="#a" transform="translate(406.5 970.5) rotate(341.9)"/>
<use href="#a" transform="translate(437.5 970.5) rotate(152.0)"/>
<use href="#a" transform="translate(468.5 970.5) rotate(149.2)"/>
<use href="#a" transform="translate(499.5 970.5) rotate(143.5)"/>
<use href="#a" transform="translate(530.5 970.5) rotate(146.4)"/>
<use href="#a" transform="translate(562.0 970.5) rotate(149.2)"/>
<use href="#a" transform="translate(593.5 970.5) rotate(152.0)"/>
<use href="#a" transform="translate(624.5 970.5) rotate(152.0)"/>
<use href="#a" transform="translate(655.5 970.5) rotate(149.2)"/>
<use href="#a" transform="translate(686.5 970.5) rotate(137.8)"/>
<use href="#a" transform="translate(717.5 970.5) rotate(132.0)"/>
<use href="#a" transform="translate(748.5 970.5) rotate(126.0)"/>
<use href="#a" transform="translate(779.5 970.5) rotate(134.8)"/>
<use href="#a" transform="translate(810.5 970.5) rotate(148.6)"/>
<use href="#a" transform="translate(841.5 970.5) rotate(152.0)"/>
<use href="#a" transform="translate(872.5 970.5) rotate(152.0)"/>
<use href="#a" transform="translate(903.5 970.5) rotate(152.0)"/>
<use href="#a" transform="translate(934.5 970.5) rotate(149.2)"/>
<use href="#a" transform="translate(965.5 970.5) rotate(140.6)"/>
<use href="#a" transform="translate(996.5 970.5) rotate(132.0)"/>
<use href="#a" transform="translate(1028.0 970.5) rotate(123.0)"/>
<use href="#a" transform="translate(1059.5 970.5) rotate(117.0)"/>
<use href="#a" transform="translate(1090.5 970.5) rotate(90.0)"/>
<use href="#a" transform="translate(1121.5 970.5) rotate(120.6)"/>
<use href="#a" transform="translate(1152.5 970.5) rotate(134.8)"/>
<use href="#a" transform="translate(1183.5 970.5) rotate(146.4)"/>
<use href="#a" transform="translate(1214.5 970.5) rotate(152.0)"/>
<use href="#a" transform="translate(1245.5 970.5) rotate(149.2)"/>
<use href="#a" transform="translate(1276.5 970.5) rotate(143.5)"/>
<use href="#a" transform="translate(1307.5 970.5) rotate(143.5)"/>
<use href="#a" transform="translate(1338.5 970.5) rotate(180.0)"/>
<use href="#a" transform="translate(1369.5 970.5) rotate(225.0)"/>
<use href="#a" transform="translate(1401.0 970.5) rotate(292.5)"/>
<use href="#a" transform="translate(1433.0 970.5) rotate(303.8)"/>
<use href="#a" transform="translate(375.5 1002.0) rotate(351.0)"/>
<use href="#a" transform="translate(406.5 1002.0) rotate(341.9)"/>
<use href="#a" transform="translate(437.5 1002.0) rotate(180.0)"/>
<use href="#a" transform="translate(468.5 1002.0) rotate(145.2)"/>
<use href="#a" transform="translate(499.5 1002.0) rotate(137.8)"/>
<use href="#a" transform="translate(530.5 1002.0) rotate(137.8)"/>
<use href="#a" transform="translate(562.0 1002.0) rotate(140.6)"/>
<use href="#a" transform="translate(593.5 1002.0) rotate(146.4)"/>
<use href="#a" transform="translate(624.5 1002.0) rotate(152.0)"/>
<use href="#a" transform="translate(655.5 1002.0) rotate(149.2)"/>
<use href="#a" transform="translate(686.5 1002.0) rotate(140.6)"/>
<use href="#a" transform="translate(717.5 1002.0) rotate(135.0)"/>
<use href="#a" transform="translate(748.5 1002.0) rotate(132.0)"/>
<use href="#a" transform="translate(779.5 1002.0) rotate(137.8)"/>
<use href="#a" transform="translate(810.5 1002.0) rotate(149.2)"/>
<use href="#a" transform="translate(841.5 1002.0) rotate(152.0)"/>
<use href="#a" transform="translate(872.5 1002.0) rotate(152.0)"/>
<use href="#a" transform="translate(903.5 1002.0) rotate(152.0)"/>
<use href="#a" transform="translate(934.5 1002.0) rotate(152.0)"/>
<use href="#a" transform="translate(965.5 1002.0) rotate(146.4)"/>
<use href="#a" transform="translate(996.5 1002.0) rotate(137.8)"/>
<use href="#a" transform="translate(1028.0 1002.0) rotate(129.0)"/>
<use href="#a" transform="translate(1059.5 1002.0) rotate(120.6)"/>
<use href="#a" transform="translate(1090.5 1002.0) rotate(90.0)"/>
<use href="#a" transform="translate(1121.5 1002.0) rotate(120.6)"/>
<use href="#a" transform="translate(1152.5 1002.0) rotate(132.0)"/>
<use href="#a" transform="translate(1183.5 1002.0) rotate(140.6)"/>
<use href="#a" transform="translate(1214.5 1002.0) rotate(149.2)"/>
<use href="#a" transform="translate(1245.5 1002.0) rotate(149.2)"/>
<use href="#a" transform="translate(1276.5 1002.0) rotate(137.8)"/>
<use href="#a" transform="translate(1307.5 1002.0) rotate(137.8)"/>
<use href="#a" transform="translate(1338.5 1002.0) rotate(135.0)"/>
<use href="#a" transform="translate(1369.5 1002.0) rotate(130.5)"/>
<use href="#a" transform="translate(1401.0 1002.0) rotate(90.0)"/>
<use href="#a" transform="translate(1433.0 1002.0) rotate(22.5)"/>
<use href="#a" transform="translate(375.5 1033.5) rotate(341.9)"/>
<use href="#a" transform="translate(406.5 1033.5) rotate(333.1)"/>
<use href="#a" transform="translate(437.5 1033.5) rotate(180.0)"/>
<use href="#a" transform="translate(468.5 1033.5) rotate(138.4)"/>
<use href="#a" transform="translate(499.5 1033.5) rotate(135.0)"/>
<use href="#a" transform="translate(530.5 1033.5) rotate(135.0)"/>
<use href="#a" transform="translate(562.0 1033.5) rotate(135.0)"/>
<use href="#a" transform="translate(593.5 1033.5) rotate(143.5)"/>
<use href="#a" transform="translate(624.5 1033.5) rotate(149.2)"/>
<use href="#a" transform="translate(655.5 1033.5) rotate(149.2)"/>
<use href="#a" transform="translate(686.5 1033.5) rotate(143.5)"/>
<use href="#a" transform="translate(717.5 1033.5) rotate(137.8)"/>
<use href="#a" transform="translate(748.5 1033.5) rotate(135.0)"/>
<use href="#a" transform="translate(779.5 1033.5) rotate(137.8)"/>
<use href="#a" transform="translate(810.5 1033.5) rotate(149.2)"/>
<use href="#a" transform="translate(841.5 1033.5) rotate(152.0)"/>
<use href="#a" transform="translate(872.5 1033.5) rotate(152.0)"/>
<use href="#a" transform="translate(903.5 1033.5) rotate(152.0)"/>
<use href="#a" transform="translate(934.5 1033.5) rotate(152.0)"/>
<use href="#a" transform="translate(965.5 1033.5) rotate(149.2)"/>
<use href="#a" transform="translate(996.5 1033.5) rotate(140.6)"/>
<use href="#a" transform="translate(1028.0 1033.5) rotate(134.8)"/>
<use href="#a" transform="translate(1059.5 1033.5) rotate(123.0)"/>
<use href="#a" transform="translate(1090.5 1033.5) rotate(117.0)"/>
<use href="#a" transform="translate(1121.5 1033.5) rotate(120.0)"/>
<use href="#a" transform="translate(1152.5 1033.5) rotate(132.0)"/>
<use href="#a" transform="translate(1183.5 1033.5) rotate(137.8)"/>
<use href="#a" transform="translate(1214.5 1033.5) rotate(149.2)"/>
<use href="#a" transform="translate(1245.5 1033.5) rotate(149.2)"/>
<use href="#a" transform="translate(1276.5 1033.5) rotate(137.8)"/>
<use href="#a" transform="translate(1307.5 1033.5) rotate(135.0)"/>
<use href="#a" transform="translate(1338.5 1033.5) rotate(132.0)"/>
<use href="#a" transform="translate(1369.5 1033.5) rotate(123.0)"/>
<use href="#a" transform="translate(1401.0 1033.5) rotate(117.0)"/>
<use href="#a" transform="translate(1433.0 1033.5) rotate(90.0)"/>
<use href="#a" transform="translate(375.5 1065.0) rotate(331.9)"/>
<use href="#a" transform="translate(406.5 1065.0) rotate(324.0)"/>
<use href="#a" transform="translate(437.5 1065.0) rotate(315.0)"/>
<use href="#a" transform="translate(468.5 1065.0) rotate(135.0)"/>
<use href="#a" transform="translate(499.5 1065.0) rotate(135.0)"/>
<use href="#a" transform="translate(530.5 1065.0) rotate(135.0)"/>
<use href="#a" transform="translate(562.0 1065.0) rotate(138.4)"/>
<use href="#a" transform="translate(593.5 1065.0) rotate(145.2)"/>
<use href="#a" transform="translate(624.5 1065.0) rotate(148.6)"/>
<use href="#a" transform="translate(655.5 1065.0) rotate(141.8)"/>
<use href="#a" transform="translate(686.5 1065.0) rotate(138.4)"/>
<use href="#a" transform="translate(717.5 1065.0) rotate(135.0)"/>
<use href="#a" transform="translate(748.5 1065.0) rotate(135.0)"/>
<use href="#a" transform="translate(779.5 1065.0) rotate(138.4)"/>
<use href="#a" transform="translate(810.5 1065.0) rotate(148.6)"/>
<use href="#a" transform="translate(841.5 1065.0) rotate(152.0)"/>
<use href="#a" transform="translate(872.5 1065.0) rotate(152.0)"/>
<use href="#a" transform="translate(903.5 1065.0) rotate(152.0)"/>
<use href="#a" transform="translate(934.5 1065.0) rotate(180.0)"/>
<use href="#a" transform="translate(965.5 1065.0) rotate(152.0)"/>
<use href="#a" transform="translate(996.5 1065.0) rotate(148.6)"/>
<use href="#a" transform="translate(1028.0 1065.0) rotate(145.2)"/>
<use href="#a" transform="translate(1059.5 1065.0) rotate(131.2)"/>
<use href="#a" transform="translate(1090.5 1065.0) rotate(120.6)"/>
<use href="#a" transform="translate(1121.5 1065.0) rotate(120.6)"/>
<use href="#a" transform="translate(1152.5 1065.0) rotate(131.4)"/>
<use href="#a" transform="translate(1183.5 1065.0) rotate(138.4)"/>
<use href="#a" transform="translate(1214.5 1065.0) rotate(148.6)"/>
<use href="#a" transform="translate(1245.5 1065.0) rotate(148.6)"/>
<use href="#a" transform="translate(1276.5 1065.0) rotate(138.4)"/>
<use href="#a" transform="translate(1307.5 1065.0) rotate(135.0)"/>
<use href="#a" transform="translate(1338.5 1065.0) rotate(131.4)"/>
<use href="#a" transform="translate(1369.5 1065.0) rotate(120.6)"/>
<use href="#a" transform="translate(1401.0 1065.0) rotate(117.0)"/>
<use href="#a" transform="translate(1433.0 1065.0) rotate(90.0)"/>
</g>
<g clip-path="url(#fc)" fill="#d4d3be" stroke="#9a9a98" stroke-width="1" stroke-linejoin="round">
<polygon points="348.7,181.9 360.0,182.4 375.8,183.5 396.2,186.4 405.2,193.2 412.0,202.3 417.7,220.4 415.4,238.5 412.0,270.2 406.4,299.6 393.9,326.8 375.8,340.4 360.0,355.1 346.4,365.2 336.2,370.9 329.4,394.7 298.9,399.2 283.0,400.3 264.9,409.4 246.8,403.7 228.7,399.2 204.9,387.9 174.4,399.2 163.0,418.0 151.7,435.0 116.7,429.3 135.9,410.5 165.3,374.3 178.9,342.6 192.5,315.5 189.1,299.6 198.1,286.0 199.3,267.9 201.5,252.1 221.9,246.4 237.8,237.4 269.4,218.1 303.4,194.4 326.0,187.6"/>
<polygon points="70.0,800.0 100.8,795.0 86.6,762.9 98.4,750.3 89.3,714.7 108.7,699.7 120.5,665.8 130.8,642.6 190.0,630.3 227.1,628.2 259.5,650.0 279.7,669.7 295.5,738.4 276.1,748.7 287.9,800.0 293.4,830.0 304.5,835.9 320.7,850.0 331.5,857.9 347.9,886.5 352.6,923.0 350.3,960.5 347.7,992.1 306.4,982.2 301.5,1014.8 305.3,1033.6 321.6,1064.1 334.5,1073.0 351.2,1052.3 356.6,1098.3 377.5,1098.3 382.2,1111.3 383.0,1125.0 70.0,1125.0 70.0,1032.6 81.8,1032.6 93.7,1026.2 121.3,1024.1 81.0,999.6 70.0,999.6 70.0,870.7 81.4,870.7 86.8,863.8 85.8,850.0 81.0,800.0"/>
<polygon points="663.5,416.3 687.2,411.6 697.0,418.5 705.6,426.1 719.0,463.3 733.7,482.5 752.9,499.5 765.4,523.2 777.8,560.6 776.7,575.3 749.5,586.6 749.5,621.7 749.5,648.9 746.1,678.3 748.4,700.9 755.2,719.0 757.4,734.9 750.6,747.3 720.1,743.9 702.0,747.3 679.3,745.1 649.9,741.7 640.9,757.5 638.6,776.3 617.3,767.3 634.1,748.5 638.6,734.9 638.6,712.3 632.9,694.1 627.3,673.8 614.8,659.1 622.8,651.1 620.5,617.2 595.6,609.3 593.3,613.8 582.0,587.8 597.9,591.2 610.3,588.9 609.2,554.9 588.8,551.1 578.6,550.4 575.2,533.4 597.9,525.5 631.8,518.7 642.0,509.7 653.3,481.4 660.1,440.6"/>
<polygon points="920.2,576.4 925.1,570.8 951.2,566.3 982.9,574.2 1007.8,586.0 1005.5,612.7 972.7,621.7 951.2,620.6 933.1,619.4 928.5,599.1"/>
<polygon points="1419.7,40.5 1411.0,72.0 1401.6,108.4 1390.5,154.2 1383.4,173.2 1365.3,176.3 1332.1,185.8 1323.4,202.4 1306.8,200.0 1297.4,207.9 1308.9,230.0 1303.4,242.6 1360.6,272.0 1413.6,246.0 1408.6,232.8 1420.4,217.7 1443.7,230.1 1461.1,206.4 1480.5,225.3 1495.0,225.3 1495.0,30.0 1419.7,30.0"/>
<polygon points="1076.8,301.9 1081.3,303.0 1082.5,315.5 1079.1,324.5 1082.5,335.8 1077.9,344.9 1080.2,358.5 1073.4,364.1 1066.6,358.5 1061.0,344.9 1050.8,341.5 1044.0,339.2 1046.2,329.0 1053.0,325.6 1063.2,324.5 1068.9,314.3 1072.3,306.4"/>
<polygon points="1189.0,369.3 1194.7,372.0 1195.4,383.4 1197.7,392.4 1193.6,399.2 1187.9,398.1 1185.7,387.9 1182.3,377.7 1185.7,373.2"/>
<polygon points="1051.9,387.9 1064.4,382.2 1080.2,390.1 1096.0,399.2 1109.6,412.8 1137.0,412.5 1165.0,412.0 1187.5,423.8 1207.5,438.8 1210.5,466.3 1187.5,476.3 1161.9,479.6 1130.0,482.5 1125.0,462.5 1122.1,446.3 1108.5,441.8 1093.8,452.0 1075.7,433.8 1062.1,418.0"/>
<polygon points="1495.0,517.0 1480.0,517.5 1475.0,530.0 1449.4,548.6 1425.6,566.3 1399.6,558.3 1396.2,576.4 1397.3,599.1 1386.0,618.3 1363.3,618.3 1322.6,612.2 1295.4,629.6 1281.9,653.4 1262.6,685.1 1250.2,710.0 1247.9,765.0 1246.1,783.0 1252.9,819.0 1255.1,844.9 1290.0,862.2 1340.6,860.6 1372.1,869.6 1391.3,862.2 1448.7,887.6 1462.2,878.6 1479.0,877.5 1495.0,877.5"/>
</g>
<g stroke="#000" stroke-width="1.3" fill="none" shape-rendering="crispEdges">
<rect x="80.5" y="40.5" width="1400" height="1072"/>
<path d="M95.5,41v5.0 M95.5,1112v-5.0 M174.5,41v8.0 M174.5,1112v-8.0 M253.5,41v5.0 M253.5,1112v-5.0 M333.5,41v5.0 M333.5,1112v-5.0 M412.5,41v12.5 M412.5,1112v-12.5 M491.5,41v5.0 M491.5,1112v-5.0 M570.5,41v5.0 M570.5,1112v-5.0 M649.5,41v8.0 M649.5,1112v-8.0 M728.5,41v5.0 M728.5,1112v-5.0 M807.5,41v5.0 M807.5,1112v-5.0 M886.5,41v12.5 M886.5,1112v-12.5 M965.5,41v5.0 M965.5,1112v-5.0 M1044.5,41v5.0 M1044.5,1112v-5.0 M1123.5,41v8.0 M1123.5,1112v-8.0 M1203.5,41v5.0 M1203.5,1112v-5.0 M1282.5,41v5.0 M1282.5,1112v-5.0 M1361.5,41v12.5 M1361.5,1112v-12.5 M1440.5,41v5.0 M1440.5,1112v-5.0 M81,136.5h5.0 M1480,136.5h-5.0 M81,233.5h5.0 M1480,233.5h-5.0 M81,329.5h8.0 M1480,329.5h-8.0 M81,426.5h5.0 M1480,426.5h-5.0 M81,523.0h5.0 M1480,523.0h-5.0 M81,619.5h12.5 M1480,619.5h-12.5 M81,716.5h5.0 M1480,716.5h-5.0 M81,813.0h5.0 M1480,813.0h-5.0 M81,909.5h8.0 M1480,909.5h-8.0 M81,1006.5h5.0 M1480,1006.5h-5.0 M81,1103.5h5.0 M1480,1103.5h-5.0" stroke-width="1"/>
</g>
<g style="opacity:0.999">
<text x="261.0" y="291.0" font-size="27.5" fill="#111" style="font-family:'Liberation Sans','Noto Sans CJK JP',sans-serif">小島</text>
<text x="260.3" y="325.6" font-size="26" fill="#111" textLength="108.5" lengthAdjust="spacingAndGlyphs">O Shima</text>
<text x="659.2" y="603.7" font-size="27.5" fill="#111" style="font-family:'Liberation Sans','Noto Sans CJK JP',sans-serif">馬島</text>
<text x="630.5" y="639.3" font-size="26" fill="#111" textLength="147.0" lengthAdjust="spacingAndGlyphs">Uma Shima</text>
<text x="1313.1" y="708.4" font-size="28" fill="#111" style="font-family:'Liberation Sans','Noto Sans CJK JP',sans-serif">大島</text>
<text x="1313.7" y="743.6" font-size="26" fill="#111" textLength="108.5" lengthAdjust="spacingAndGlyphs">O Shima</text>
<text x="109.5" y="1207.4" font-size="44" fill="#111" textLength="367.0" lengthAdjust="spacingAndGlyphs">Kurushima Kaikyo</text>
<text x="110.0" y="1258.0" font-size="43" fill="#111" textLength="378.0" lengthAdjust="spacingAndGlyphs">23-APR-2026 01:20</text>
<text x="457.0" y="1258.5" font-size="30" fill="#111" textLength="181.0" lengthAdjust="spacingAndGlyphs">JST(UTC+9)</text>
<rect x="110" y="1301" width="38" height="43" fill="#d8d8fc" shape-rendering="crispEdges"/>
<rect x="148" y="1301" width="39" height="43" fill="#c6e2fe" shape-rendering="crispEdges"/>
<rect x="187" y="1301" width="38" height="43" fill="#9ccafc" shape-rendering="crispEdges"/>
<rect x="225" y="1301" width="38" height="43" fill="#ffffc0" shape-rendering="crispEdges"/>
<rect x="263" y="1301" width="38" height="43" fill="#f9f99a" shape-rendering="crispEdges"/>
<rect x="301" y="1301" width="39" height="43" fill="#f9f100" shape-rendering="crispEdges"/>
<rect x="340" y="1301" width="38" height="43" fill="#ffc400" shape-rendering="crispEdges"/>
<rect x="378" y="1301" width="38" height="43" fill="#ff8c00" shape-rendering="crispEdges"/>
<rect x="416" y="1301" width="38" height="43" fill="#f85a00" shape-rendering="crispEdges"/>
<rect x="454" y="1301" width="39" height="43" fill="#ff1800" shape-rendering="crispEdges"/>
<rect x="493" y="1301" width="38" height="43" fill="#a00028" shape-rendering="crispEdges"/>
<rect x="531" y="1301" width="41" height="43" fill="#b40060" shape-rendering="crispEdges"/>
<rect x="109.5" y="1301.5" width="462" height="42" fill="none" stroke="#000" stroke-width="1" shape-rendering="crispEdges"/>
<text x="115.8" y="1295.0" font-size="18.5" fill="#111" textLength="10.8" lengthAdjust="spacingAndGlyphs" text-anchor="middle">0</text>
<text x="154.1" y="1295.0" font-size="18.5" fill="#111" textLength="10.8" lengthAdjust="spacingAndGlyphs" text-anchor="middle">1</text>
<text x="192.5" y="1295.0" font-size="18.5" fill="#111" textLength="10.8" lengthAdjust="spacingAndGlyphs" text-anchor="middle">2</text>
<text x="230.8" y="1295.0" font-size="18.5" fill="#111" textLength="10.8" lengthAdjust="spacingAndGlyphs" text-anchor="middle">3</text>
<text x="269.1" y="1295.0" font-size="18.5" fill="#111" textLength="10.8" lengthAdjust="spacingAndGlyphs" text-anchor="middle">4</text>
<text x="307.4" y="1295.0" font-size="18.5" fill="#111" textLength="10.8" lengthAdjust="spacingAndGlyphs" text-anchor="middle">5</text>
<text x="345.8" y="1295.0" font-size="18.5" fill="#111" textLength="10.8" lengthAdjust="spacingAndGlyphs" text-anchor="middle">6</text>
<text x="384.1" y="1295.0" font-size="18.5" fill="#111" textLength="10.8" lengthAdjust="spacingAndGlyphs" text-anchor="middle">7</text>
<text x="422.4" y="1295.0" font-size="18.5" fill="#111" textLength="10.8" lengthAdjust="spacingAndGlyphs" text-anchor="middle">8</text>
<text x="460.8" y="1295.0" font-size="18.5" fill="#111" textLength="10.8" lengthAdjust="spacingAndGlyphs" text-anchor="middle">9</text>
<text x="505.7" y="1295.0" font-size="18.5" fill="#111" textLength="24.0" lengthAdjust="spacingAndGlyphs" text-anchor="middle">10</text>
<text x="532.0" y="1295.0" font-size="18.5" fill="#111" textLength="21.5" lengthAdjust="spacingAndGlyphs">11</text>
<text x="557.5" y="1295.0" font-size="22" fill="#111" textLength="96.0" lengthAdjust="spacingAndGlyphs">over [kn]</text>
<text x="50.5" y="24.0" font-size="19.8" fill="#125a12" textLength="24.6" lengthAdjust="spacingAndGlyphs">34</text>
<circle cx="73.5" cy="9.7" r="2.3" fill="none" stroke="#125a12" stroke-width="1"/>
<text x="61.5" y="42.6" font-size="18.5" fill="#125a12" textLength="10.6" lengthAdjust="spacingAndGlyphs" font-style="italic">8</text>
<path d="M73.3,28.0l-1.6,5" stroke="#125a12" stroke-width="1.1" fill="none"/>
<text x="50.5" y="603.9" font-size="19.8" fill="#125a12" textLength="24.6" lengthAdjust="spacingAndGlyphs">34</text>
<circle cx="73.5" cy="589.6" r="2.3" fill="none" stroke="#125a12" stroke-width="1"/>
<text x="61.5" y="623.0" font-size="18.5" fill="#125a12" textLength="10.6" lengthAdjust="spacingAndGlyphs" font-style="italic">7</text>
<path d="M73.3,608.4l-1.6,5" stroke="#125a12" stroke-width="1.1" fill="none"/>
<text x="403.4" y="1132.9" font-size="18.2" fill="#125a12" textLength="21.2" lengthAdjust="spacingAndGlyphs">59</text>
<path d="M424.9,1117.6l-1.6,5" stroke="#125a12" stroke-width="1.1" fill="none"/>
<text x="397.9" y="1152.6" font-size="19.5" fill="#125a12" textLength="37.2" lengthAdjust="spacingAndGlyphs">132</text>
<circle cx="430.3" cy="1138.3" r="2.3" fill="none" stroke="#125a12" stroke-width="1"/>
<text x="882.1" y="1132.9" font-size="18.2" fill="#125a12" textLength="10.9" lengthAdjust="spacingAndGlyphs">0</text>
<path d="M893.4,1117.6l-1.6,5" stroke="#125a12" stroke-width="1.1" fill="none"/>
<text x="872.4" y="1152.6" font-size="19.5" fill="#125a12" textLength="37.2" lengthAdjust="spacingAndGlyphs">133</text>
<circle cx="904.8" cy="1138.3" r="2.3" fill="none" stroke="#125a12" stroke-width="1"/>
<text x="1356.6" y="1132.9" font-size="18.2" fill="#125a12" textLength="10.9" lengthAdjust="spacingAndGlyphs">1</text>
<path d="M1367.8,1117.6l-1.6,5" stroke="#125a12" stroke-width="1.1" fill="none"/>
<text x="1346.9" y="1152.6" font-size="19.5" fill="#125a12" textLength="37.2" lengthAdjust="spacingAndGlyphs">133</text>
<circle cx="1379.3" cy="1138.3" r="2.3" fill="none" stroke="#125a12" stroke-width="1"/>
<g shape-rendering="crispEdges" stroke="#111" fill="none" stroke-width="1">
<rect x="980.5" y="1172.5" width="500" height="309.5"/>
<path d="M1080.5,1247V1457.5 M1078,1457.5H1431 M1070,1352.5H1431"/>
<path d="M1080.5,1258.5h-10.5 M1080.5,1268.5h-2.5 M1080.5,1279.5h-2.5 M1080.5,1289.5h-10.5 M1080.5,1300.5h-2.5 M1080.5,1310.5h-2.5 M1080.5,1321.5h-10.5 M1080.5,1331.5h-2.5 M1080.5,1342.5h-2.5 M1080.5,1363.5h-2.5 M1080.5,1373.5h-2.5 M1080.5,1384.5h-10.5 M1080.5,1394.5h-2.5 M1080.5,1405.5h-2.5 M1080.5,1415.5h-10.5 M1080.5,1425.5h-2.5 M1080.5,1436.5h-2.5 M1080.5,1446.5h-10.5 M1080.5,1457.5v5.5 M1095.5,1457.5v2.5 M1110.5,1457.5v2.5 M1124.5,1457.5v5.5 M1139.5,1457.5v2.5 M1153.5,1457.5v2.5 M1168.5,1457.5v5.5 M1182.5,1457.5v2.5 M1197.5,1457.5v2.5 M1212.5,1457.5v5.5 M1226.5,1457.5v2.5 M1241.5,1457.5v2.5 M1255.5,1457.5v5.5 M1270.5,1457.5v2.5 M1285.5,1457.5v2.5 M1299.5,1457.5v5.5 M1314.5,1457.5v2.5 M1328.5,1457.5v2.5 M1343.5,1457.5v5.5 M1357.5,1457.5v2.5 M1372.5,1457.5v2.5 M1387.5,1457.5v5.5 M1401.5,1457.5v2.5 M1416.5,1457.5v2.5 M1430.5,1457.5v5.5"/>
<rect x="1097" y="1247" width="5" height="210.5" fill="#ff0000" stroke="none"/>
<polyline points="1080.6,1429.4 1087.5,1428.1 1091.3,1425.0 1096.9,1420.0 1101.9,1413.8 1115.0,1392.5 1125.0,1371.3 1135.0,1352.3 1140.6,1340.6 1153.8,1320.6 1161.3,1312.5 1171.3,1306.9 1180.0,1305.3 1185.0,1305.6 1200.0,1315.6 1216.3,1335.6 1225.0,1352.3 1232.5,1365.0 1242.5,1378.1 1252.5,1386.9 1258.8,1390.0 1265.0,1391.5 1268.8,1390.6 1273.8,1388.1 1281.3,1382.5 1288.8,1372.5 1295.0,1362.5 1303.1,1352.3 1310.0,1339.4 1317.5,1328.1 1325.0,1317.5 1336.3,1306.9 1342.5,1302.1 1350.0,1298.8 1355.6,1297.5 1361.3,1298.8 1370.0,1303.1 1378.8,1311.9 1386.3,1321.3 1393.8,1332.5 1402.5,1347.5 1404.4,1352.3 1412.5,1368.8 1421.3,1385.6 1430.6,1399.8"/>
</g>
<text x="1081.0" y="1201.7" font-size="23" fill="#111" textLength="374.0" lengthAdjust="spacingAndGlyphs">KURUSIMA KAIKYO-NAKA SUIDO</text>
<text x="1069.3" y="1225.9" font-size="15" fill="#111" textLength="17.0" lengthAdjust="spacingAndGlyphs">kn</text>
<text x="1011.5" y="1250.4" font-size="22" fill="#111">N</text>
<text x="1011.5" y="1461.0" font-size="22" fill="#111">S</text>
<text x="1058.4" y="1264.3" font-size="16" fill="#111" textLength="8.9" lengthAdjust="spacingAndGlyphs" text-anchor="end">9</text>
<text x="1058.4" y="1295.7" font-size="16" fill="#111" textLength="8.9" lengthAdjust="spacingAndGlyphs" text-anchor="end">6</text>
<text x="1058.4" y="1327.1" font-size="16" fill="#111" textLength="8.9" lengthAdjust="spacingAndGlyphs" text-anchor="end">3</text>
<text x="1058.4" y="1358.5" font-size="16" fill="#111" textLength="8.9" lengthAdjust="spacingAndGlyphs" text-anchor="end">0</text>
<text x="1058.4" y="1389.9" font-size="16" fill="#111" textLength="8.9" lengthAdjust="spacingAndGlyphs" text-anchor="end">3</text>
<text x="1058.4" y="1421.3" font-size="16" fill="#111" textLength="8.9" lengthAdjust="spacingAndGlyphs" text-anchor="end">6</text>
<text x="1058.4" y="1452.7" font-size="16" fill="#111" textLength="8.9" lengthAdjust="spacingAndGlyphs" text-anchor="end">9</text>
<text x="1080.6" y="1477.7" font-size="15" fill="#111">0</text>
<text x="1124.3" y="1477.7" font-size="15" fill="#111">3</text>
<text x="1168.1" y="1477.7" font-size="15" fill="#111">6</text>
<text x="1211.8" y="1477.7" font-size="15" fill="#111">9</text>
<text x="1255.6" y="1477.7" font-size="15" fill="#111">12</text>
<text x="1299.3" y="1477.7" font-size="15" fill="#111">15</text>
<text x="1343.0" y="1477.7" font-size="15" fill="#111">18</text>
<text x="1386.8" y="1477.7" font-size="15" fill="#111">21</text>
<text x="1431.0" y="1477.7" font-size="15" fill="#111">0</text>
<text x="1442.5" y="1477.7" font-size="13" fill="#111">h</text>
</g>
</svg></body></html>
